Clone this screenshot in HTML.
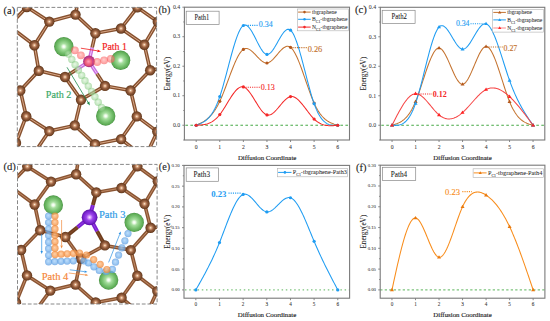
<!DOCTYPE html><html><head><meta charset="utf-8"><style>html,body{margin:0;padding:0;background:#fff;width:550px;height:321px;overflow:hidden}svg{display:block}</style></head><body>
<svg width="550" height="321" viewBox="0 0 550 321">
<defs>
<radialGradient id="gC" cx="0.5" cy="0.5" r="0.5" fx="0.5" fy="0.5">
<stop offset="0" stop-color="#fff4e4"/><stop offset="0.2" stop-color="#dba882"/><stop offset="0.5" stop-color="#9a6242"/><stop offset="0.85" stop-color="#744426"/><stop offset="1" stop-color="#5a3418"/></radialGradient>
<radialGradient id="gLi" cx="0.5" cy="0.5" r="0.5" fx="0.5" fy="0.5">
<stop offset="0" stop-color="#ffffff"/><stop offset="0.12" stop-color="#eefcea"/><stop offset="0.32" stop-color="#a6de9e"/><stop offset="0.62" stop-color="#7cc474"/><stop offset="0.9" stop-color="#5caa54"/><stop offset="1" stop-color="#428c3e"/></radialGradient>
<radialGradient id="gB" cx="0.5" cy="0.5" r="0.5" fx="0.5" fy="0.5">
<stop offset="0" stop-color="#ff9ad0"/><stop offset="0.4" stop-color="#e04c9c"/><stop offset="1" stop-color="#a8307a"/></radialGradient>
<radialGradient id="gP" cx="0.5" cy="0.5" r="0.5" fx="0.5" fy="0.5">
<stop offset="0" stop-color="#fbe8ff"/><stop offset="0.16" stop-color="#dca8ff"/><stop offset="0.42" stop-color="#9c44ea"/><stop offset="0.8" stop-color="#7622cc"/><stop offset="1" stop-color="#5a12a0"/></radialGradient>
<radialGradient id="gDB" cx="0.5" cy="0.5" r="0.5" fx="0.45" fy="0.4">
<stop offset="0" stop-color="#a8d2fa"/><stop offset="0.6" stop-color="#7cb6ee"/><stop offset="1" stop-color="#5a9ae0"/></radialGradient>
<radialGradient id="gDO" cx="0.5" cy="0.5" r="0.5" fx="0.45" fy="0.4">
<stop offset="0" stop-color="#ffc490"/><stop offset="0.6" stop-color="#f8a058"/><stop offset="1" stop-color="#ec8434"/></radialGradient>
<radialGradient id="gDG" cx="0.5" cy="0.5" r="0.5" fx="0.45" fy="0.4">
<stop offset="0" stop-color="#d8f4d4"/><stop offset="0.6" stop-color="#a8dca2"/><stop offset="1" stop-color="#84c880"/></radialGradient>
<radialGradient id="gDR" cx="0.5" cy="0.5" r="0.5" fx="0.45" fy="0.4">
<stop offset="0" stop-color="#ffb0b0"/><stop offset="0.6" stop-color="#ff7a7a"/><stop offset="1" stop-color="#f65a5a"/></radialGradient>
</defs>
<rect width="550" height="321" fill="#fff"/>
<clipPath id="ca"><rect x="17.3" y="7.4" width="139.30" height="139.20"/></clipPath>
<g clip-path="url(#ca)">

<line x1="26.8" y1="7.0" x2="49.3" y2="21.6" stroke="#86502e" stroke-width="3.6"/><line x1="26.8" y1="7.0" x2="49.3" y2="21.6" stroke="#d9a888" stroke-width="1.0"/>
<line x1="26.8" y1="7.0" x2="9.0" y2="26.0" stroke="#86502e" stroke-width="3.6"/><line x1="26.8" y1="7.0" x2="9.0" y2="26.0" stroke="#d9a888" stroke-width="1.0"/>
<line x1="26.8" y1="7.0" x2="26.0" y2="-12.0" stroke="#86502e" stroke-width="3.6"/><line x1="26.8" y1="7.0" x2="26.0" y2="-12.0" stroke="#d9a888" stroke-width="1.0"/>
<line x1="49.3" y1="21.6" x2="75.5" y2="14.6" stroke="#86502e" stroke-width="3.6"/><line x1="49.3" y1="21.6" x2="75.5" y2="14.6" stroke="#d9a888" stroke-width="1.0"/>
<line x1="49.3" y1="21.6" x2="34.4" y2="45.2" stroke="#86502e" stroke-width="3.6"/><line x1="49.3" y1="21.6" x2="34.4" y2="45.2" stroke="#d9a888" stroke-width="1.0"/>
<line x1="75.5" y1="14.6" x2="95.4" y2="33.3" stroke="#86502e" stroke-width="3.6"/><line x1="75.5" y1="14.6" x2="95.4" y2="33.3" stroke="#d9a888" stroke-width="1.0"/>
<line x1="75.5" y1="14.6" x2="80.0" y2="-10.0" stroke="#86502e" stroke-width="3.6"/><line x1="75.5" y1="14.6" x2="80.0" y2="-10.0" stroke="#d9a888" stroke-width="1.0"/>
<line x1="34.4" y1="45.2" x2="38.8" y2="70.7" stroke="#86502e" stroke-width="3.6"/><line x1="34.4" y1="45.2" x2="38.8" y2="70.7" stroke="#d9a888" stroke-width="1.0"/>
<line x1="34.4" y1="45.2" x2="9.0" y2="26.0" stroke="#86502e" stroke-width="3.6"/><line x1="34.4" y1="45.2" x2="9.0" y2="26.0" stroke="#d9a888" stroke-width="1.0"/>
<line x1="38.8" y1="70.7" x2="65.0" y2="77.0" stroke="#86502e" stroke-width="3.6"/><line x1="38.8" y1="70.7" x2="65.0" y2="77.0" stroke="#d9a888" stroke-width="1.0"/>
<line x1="38.8" y1="70.7" x2="20.3" y2="90.5" stroke="#86502e" stroke-width="3.6"/><line x1="38.8" y1="70.7" x2="20.3" y2="90.5" stroke="#d9a888" stroke-width="1.0"/>
<line x1="89.0" y1="61.4" x2="77.0" y2="69.2" stroke="#c86ee0" stroke-width="3.6"/><line x1="89.0" y1="61.4" x2="77.0" y2="69.2" stroke="#f2c8fa" stroke-width="1.0"/>
<line x1="77.0" y1="69.2" x2="65.0" y2="77.0" stroke="#86502e" stroke-width="3.6"/><line x1="77.0" y1="69.2" x2="65.0" y2="77.0" stroke="#d9a888" stroke-width="1.0"/>
<line x1="65.0" y1="77.0" x2="81.0" y2="99.7" stroke="#86502e" stroke-width="3.6"/><line x1="65.0" y1="77.0" x2="81.0" y2="99.7" stroke="#d9a888" stroke-width="1.0"/>
<line x1="89.0" y1="61.4" x2="92.2" y2="47.3" stroke="#c86ee0" stroke-width="3.6"/><line x1="89.0" y1="61.4" x2="92.2" y2="47.3" stroke="#f2c8fa" stroke-width="1.0"/>
<line x1="92.2" y1="47.3" x2="95.4" y2="33.3" stroke="#86502e" stroke-width="3.6"/><line x1="92.2" y1="47.3" x2="95.4" y2="33.3" stroke="#d9a888" stroke-width="1.0"/>
<line x1="89.0" y1="61.4" x2="97.0" y2="73.7" stroke="#c86ee0" stroke-width="3.6"/><line x1="89.0" y1="61.4" x2="97.0" y2="73.7" stroke="#f2c8fa" stroke-width="1.0"/>
<line x1="97.0" y1="73.7" x2="105.0" y2="85.9" stroke="#86502e" stroke-width="3.6"/><line x1="97.0" y1="73.7" x2="105.0" y2="85.9" stroke="#d9a888" stroke-width="1.0"/>
<line x1="95.4" y1="33.3" x2="121.0" y2="28.5" stroke="#86502e" stroke-width="3.6"/><line x1="95.4" y1="33.3" x2="121.0" y2="28.5" stroke="#d9a888" stroke-width="1.0"/>
<line x1="121.0" y1="28.5" x2="137.3" y2="7.3" stroke="#86502e" stroke-width="3.6"/><line x1="121.0" y1="28.5" x2="137.3" y2="7.3" stroke="#d9a888" stroke-width="1.0"/>
<line x1="121.0" y1="28.5" x2="144.3" y2="44.7" stroke="#86502e" stroke-width="3.6"/><line x1="121.0" y1="28.5" x2="144.3" y2="44.7" stroke="#d9a888" stroke-width="1.0"/>
<line x1="137.3" y1="7.3" x2="157.8" y2="21.8" stroke="#86502e" stroke-width="3.6"/><line x1="137.3" y1="7.3" x2="157.8" y2="21.8" stroke="#d9a888" stroke-width="1.0"/>
<line x1="157.8" y1="21.8" x2="144.3" y2="44.7" stroke="#86502e" stroke-width="3.6"/><line x1="157.8" y1="21.8" x2="144.3" y2="44.7" stroke="#d9a888" stroke-width="1.0"/>
<line x1="144.3" y1="44.7" x2="150.2" y2="70.2" stroke="#86502e" stroke-width="3.6"/><line x1="144.3" y1="44.7" x2="150.2" y2="70.2" stroke="#d9a888" stroke-width="1.0"/>
<line x1="150.2" y1="70.2" x2="130.6" y2="90.5" stroke="#86502e" stroke-width="3.6"/><line x1="150.2" y1="70.2" x2="130.6" y2="90.5" stroke="#d9a888" stroke-width="1.0"/>
<line x1="150.2" y1="70.2" x2="176.0" y2="66.0" stroke="#86502e" stroke-width="3.6"/><line x1="150.2" y1="70.2" x2="176.0" y2="66.0" stroke="#d9a888" stroke-width="1.0"/>
<line x1="105.0" y1="85.9" x2="81.0" y2="99.7" stroke="#86502e" stroke-width="3.6"/><line x1="105.0" y1="85.9" x2="81.0" y2="99.7" stroke="#d9a888" stroke-width="1.0"/>
<line x1="105.0" y1="85.9" x2="130.6" y2="90.5" stroke="#86502e" stroke-width="3.6"/><line x1="105.0" y1="85.9" x2="130.6" y2="90.5" stroke="#d9a888" stroke-width="1.0"/>
<line x1="81.0" y1="99.7" x2="74.8" y2="125.4" stroke="#86502e" stroke-width="3.6"/><line x1="81.0" y1="99.7" x2="74.8" y2="125.4" stroke="#d9a888" stroke-width="1.0"/>
<line x1="20.3" y1="90.5" x2="26.2" y2="116.2" stroke="#86502e" stroke-width="3.6"/><line x1="20.3" y1="90.5" x2="26.2" y2="116.2" stroke="#d9a888" stroke-width="1.0"/>
<line x1="20.3" y1="90.5" x2="-3.0" y2="80.0" stroke="#86502e" stroke-width="3.6"/><line x1="20.3" y1="90.5" x2="-3.0" y2="80.0" stroke="#d9a888" stroke-width="1.0"/>
<line x1="26.2" y1="116.2" x2="49.3" y2="131.1" stroke="#86502e" stroke-width="3.6"/><line x1="26.2" y1="116.2" x2="49.3" y2="131.1" stroke="#d9a888" stroke-width="1.0"/>
<line x1="26.2" y1="116.2" x2="16.0" y2="143.0" stroke="#86502e" stroke-width="3.6"/><line x1="26.2" y1="116.2" x2="16.0" y2="143.0" stroke="#d9a888" stroke-width="1.0"/>
<line x1="49.3" y1="131.1" x2="74.8" y2="125.4" stroke="#86502e" stroke-width="3.6"/><line x1="49.3" y1="131.1" x2="74.8" y2="125.4" stroke="#d9a888" stroke-width="1.0"/>
<line x1="49.3" y1="131.1" x2="34.6" y2="152.5" stroke="#86502e" stroke-width="3.6"/><line x1="49.3" y1="131.1" x2="34.6" y2="152.5" stroke="#d9a888" stroke-width="1.0"/>
<line x1="74.8" y1="125.4" x2="95.0" y2="144.2" stroke="#86502e" stroke-width="3.6"/><line x1="74.8" y1="125.4" x2="95.0" y2="144.2" stroke="#d9a888" stroke-width="1.0"/>
<line x1="130.6" y1="90.5" x2="136.8" y2="116.4" stroke="#86502e" stroke-width="3.6"/><line x1="130.6" y1="90.5" x2="136.8" y2="116.4" stroke="#d9a888" stroke-width="1.0"/>
<line x1="136.8" y1="116.4" x2="121.1" y2="139.1" stroke="#86502e" stroke-width="3.6"/><line x1="136.8" y1="116.4" x2="121.1" y2="139.1" stroke="#d9a888" stroke-width="1.0"/>
<line x1="136.8" y1="116.4" x2="157.3" y2="131.6" stroke="#86502e" stroke-width="3.6"/><line x1="136.8" y1="116.4" x2="157.3" y2="131.6" stroke="#d9a888" stroke-width="1.0"/>
<line x1="121.1" y1="139.1" x2="95.0" y2="144.2" stroke="#86502e" stroke-width="3.6"/><line x1="121.1" y1="139.1" x2="95.0" y2="144.2" stroke="#d9a888" stroke-width="1.0"/>
<line x1="121.1" y1="139.1" x2="145.0" y2="158.0" stroke="#86502e" stroke-width="3.6"/><line x1="121.1" y1="139.1" x2="145.0" y2="158.0" stroke="#d9a888" stroke-width="1.0"/>
<line x1="157.3" y1="131.6" x2="145.0" y2="158.0" stroke="#86502e" stroke-width="3.6"/><line x1="157.3" y1="131.6" x2="145.0" y2="158.0" stroke="#d9a888" stroke-width="1.0"/>
<line x1="95.0" y1="144.2" x2="95.0" y2="168.0" stroke="#86502e" stroke-width="3.6"/><line x1="95.0" y1="144.2" x2="95.0" y2="168.0" stroke="#d9a888" stroke-width="1.0"/>
<line x1="137.3" y1="7.3" x2="150.0" y2="-8.0" stroke="#86502e" stroke-width="3.6"/><line x1="137.3" y1="7.3" x2="150.0" y2="-8.0" stroke="#d9a888" stroke-width="1.0"/>
<line x1="157.8" y1="21.8" x2="178.0" y2="30.0" stroke="#86502e" stroke-width="3.6"/><line x1="157.8" y1="21.8" x2="178.0" y2="30.0" stroke="#d9a888" stroke-width="1.0"/>
<line x1="157.3" y1="131.6" x2="176.0" y2="140.0" stroke="#86502e" stroke-width="3.6"/><line x1="157.3" y1="131.6" x2="176.0" y2="140.0" stroke="#d9a888" stroke-width="1.0"/>
<circle cx="26.8" cy="7.0" r="5.2" fill="url(#gC)"/>
<circle cx="49.3" cy="21.6" r="5.2" fill="url(#gC)"/>
<circle cx="75.5" cy="14.6" r="5.2" fill="url(#gC)"/>
<circle cx="34.4" cy="45.2" r="5.2" fill="url(#gC)"/>
<circle cx="38.8" cy="70.7" r="5.2" fill="url(#gC)"/>
<circle cx="65.0" cy="77.0" r="5.2" fill="url(#gC)"/>
<circle cx="95.4" cy="33.3" r="5.2" fill="url(#gC)"/>
<circle cx="121.0" cy="28.5" r="5.2" fill="url(#gC)"/>
<circle cx="137.3" cy="7.3" r="5.2" fill="url(#gC)"/>
<circle cx="144.3" cy="44.7" r="5.2" fill="url(#gC)"/>
<circle cx="150.2" cy="70.2" r="5.2" fill="url(#gC)"/>
<circle cx="157.8" cy="21.8" r="5.2" fill="url(#gC)"/>
<circle cx="105.0" cy="85.9" r="5.2" fill="url(#gC)"/>
<circle cx="81.0" cy="99.7" r="5.2" fill="url(#gC)"/>
<circle cx="20.3" cy="90.5" r="5.2" fill="url(#gC)"/>
<circle cx="26.2" cy="116.2" r="5.2" fill="url(#gC)"/>
<circle cx="49.3" cy="131.1" r="5.2" fill="url(#gC)"/>
<circle cx="74.8" cy="125.4" r="5.2" fill="url(#gC)"/>
<circle cx="130.6" cy="90.5" r="5.2" fill="url(#gC)"/>
<circle cx="136.8" cy="116.4" r="5.2" fill="url(#gC)"/>
<circle cx="121.1" cy="139.1" r="5.2" fill="url(#gC)"/>
<circle cx="95.0" cy="144.2" r="5.2" fill="url(#gC)"/>
<circle cx="157.3" cy="131.6" r="5.2" fill="url(#gC)"/>
<circle cx="9.0" cy="26.0" r="5.2" fill="url(#gC)"/>
<circle cx="80.0" cy="-10.0" r="5.2" fill="url(#gC)"/>
<circle cx="150.0" cy="-8.0" r="5.2" fill="url(#gC)"/>
<circle cx="176.0" cy="66.0" r="5.2" fill="url(#gC)"/>
<circle cx="-3.0" cy="80.0" r="5.2" fill="url(#gC)"/>
<circle cx="16.0" cy="143.0" r="5.2" fill="url(#gC)"/>
<circle cx="34.6" cy="152.5" r="5.2" fill="url(#gC)"/>
<circle cx="145.0" cy="158.0" r="5.2" fill="url(#gC)"/>
<circle cx="95.0" cy="168.0" r="5.2" fill="url(#gC)"/>
<circle cx="26.0" cy="-12.0" r="5.2" fill="url(#gC)"/>
<circle cx="178.0" cy="30.0" r="5.2" fill="url(#gC)"/>
<circle cx="176.0" cy="140.0" r="5.2" fill="url(#gC)"/>
<circle cx="89.0" cy="61.4" r="5.9" fill="url(#gB)"/>
<circle cx="63.8" cy="46.6" r="9.7" fill="url(#gLi)"/>
<circle cx="120.6" cy="60.3" r="9.7" fill="url(#gLi)"/>
<circle cx="105.7" cy="116.0" r="9.7" fill="url(#gLi)"/>
<circle cx="68.5" cy="54.0" r="3.7" fill="url(#gDG)" fill-opacity="0.6"/>
<circle cx="71.8" cy="59.4" r="3.7" fill="url(#gDG)" fill-opacity="0.6"/>
<circle cx="75.1" cy="64.7" r="3.7" fill="url(#gDG)" fill-opacity="0.6"/>
<circle cx="78.4" cy="70.0" r="3.7" fill="url(#gDG)" fill-opacity="0.6"/>
<circle cx="81.7" cy="75.4" r="3.7" fill="url(#gDG)" fill-opacity="0.6"/>
<circle cx="85.0" cy="80.8" r="3.7" fill="url(#gDG)" fill-opacity="0.6"/>
<circle cx="88.3" cy="86.1" r="3.7" fill="url(#gDG)" fill-opacity="0.6"/>
<circle cx="91.6" cy="91.4" r="3.7" fill="url(#gDG)" fill-opacity="0.6"/>
<circle cx="94.9" cy="96.8" r="3.7" fill="url(#gDG)" fill-opacity="0.6"/>
<circle cx="98.2" cy="102.2" r="3.7" fill="url(#gDG)" fill-opacity="0.6"/>
<circle cx="101.5" cy="107.5" r="3.7" fill="url(#gDG)" fill-opacity="0.6"/>
<circle cx="74.9" cy="50.3" r="3.9" fill="url(#gDR)" fill-opacity="0.62"/>
<circle cx="80.9" cy="55.3" r="3.9" fill="url(#gDR)" fill-opacity="0.62"/>
<circle cx="88.4" cy="62.2" r="3.9" fill="url(#gDR)" fill-opacity="0.62"/>
<circle cx="97.2" cy="62.0" r="3.9" fill="url(#gDR)" fill-opacity="0.62"/>
<circle cx="104.1" cy="60.3" r="3.9" fill="url(#gDR)" fill-opacity="0.62"/>
<circle cx="110.8" cy="58.8" r="3.9" fill="url(#gDR)" fill-opacity="0.62"/>
<line x1="80.9" y1="48.2" x2="97.4" y2="50.8" stroke="#f01c1c" stroke-width="0.8"/><path d="M101.0,51.4 L97.2,52.3 L97.7,49.4 Z" fill="#f01c1c"/>
<line x1="67.0" y1="67.3" x2="88.0" y2="102.3" stroke="#1f8a4c" stroke-width="0.8"/><path d="M89.9,105.4 L86.8,103.1 L89.3,101.5 Z" fill="#1f8a4c"/>
<text x="101.90" y="49.70" font-family="Liberation Serif" font-size="11.4" fill="#f21c1c" textLength="25.1" lengthAdjust="spacingAndGlyphs" stroke="#f21c1c" stroke-width="0.2">Path 1</text>
<text x="45.80" y="98.10" font-family="Liberation Serif" font-size="11.4" fill="#3aa866" textLength="25.6" lengthAdjust="spacingAndGlyphs" stroke="#3aa866" stroke-width="0.2">Path 2</text>
</g>
<rect x="17.3" y="7.4" width="139.30" height="139.20" fill="none" stroke="#7a7a7a" stroke-width="0.9" stroke-dasharray="3.8,1.9"/>
<text x="3.60" y="13.60" font-family="Liberation Serif" font-size="10.8" fill="#1e1e1e" textLength="11.6" lengthAdjust="spacingAndGlyphs" stroke="#1e1e1e" stroke-width="0.12">(a)</text>
<clipPath id="cd"><rect x="17.5" y="164.4" width="139.60" height="139.60"/></clipPath>
<g clip-path="url(#cd)">

<line x1="27.3" y1="166.4" x2="51.0" y2="181.6" stroke="#8a5432" stroke-width="3.6"/><line x1="27.3" y1="166.4" x2="51.0" y2="181.6" stroke="#c08a66" stroke-width="1.0"/>
<line x1="27.3" y1="166.4" x2="9.0" y2="185.5" stroke="#8a5432" stroke-width="3.6"/><line x1="27.3" y1="166.4" x2="9.0" y2="185.5" stroke="#c08a66" stroke-width="1.0"/>
<line x1="27.3" y1="166.4" x2="26.0" y2="147.5" stroke="#8a5432" stroke-width="3.6"/><line x1="27.3" y1="166.4" x2="26.0" y2="147.5" stroke="#c08a66" stroke-width="1.0"/>
<line x1="51.0" y1="181.6" x2="76.1" y2="174.2" stroke="#8a5432" stroke-width="3.6"/><line x1="51.0" y1="181.6" x2="76.1" y2="174.2" stroke="#c08a66" stroke-width="1.0"/>
<line x1="51.0" y1="181.6" x2="34.6" y2="204.5" stroke="#8a5432" stroke-width="3.6"/><line x1="51.0" y1="181.6" x2="34.6" y2="204.5" stroke="#c08a66" stroke-width="1.0"/>
<line x1="76.1" y1="174.2" x2="96.3" y2="192.4" stroke="#8a5432" stroke-width="3.6"/><line x1="76.1" y1="174.2" x2="96.3" y2="192.4" stroke="#c08a66" stroke-width="1.0"/>
<line x1="76.1" y1="174.2" x2="80.0" y2="149.5" stroke="#8a5432" stroke-width="3.6"/><line x1="76.1" y1="174.2" x2="80.0" y2="149.5" stroke="#c08a66" stroke-width="1.0"/>
<line x1="34.6" y1="204.5" x2="40.2" y2="230.3" stroke="#8a5432" stroke-width="3.6"/><line x1="34.6" y1="204.5" x2="40.2" y2="230.3" stroke="#c08a66" stroke-width="1.0"/>
<line x1="34.6" y1="204.5" x2="9.0" y2="185.5" stroke="#8a5432" stroke-width="3.6"/><line x1="34.6" y1="204.5" x2="9.0" y2="185.5" stroke="#c08a66" stroke-width="1.0"/>
<line x1="40.2" y1="230.3" x2="65.4" y2="237.0" stroke="#8a5432" stroke-width="3.6"/><line x1="40.2" y1="230.3" x2="65.4" y2="237.0" stroke="#c08a66" stroke-width="1.0"/>
<line x1="40.2" y1="230.3" x2="21.1" y2="250.0" stroke="#8a5432" stroke-width="3.6"/><line x1="40.2" y1="230.3" x2="21.1" y2="250.0" stroke="#c08a66" stroke-width="1.0"/>
<line x1="89.6" y1="217.3" x2="77.5" y2="227.2" stroke="#7a1ed2" stroke-width="4.0"/><line x1="89.6" y1="217.3" x2="77.5" y2="227.2" stroke="#9a4ae6" stroke-width="0.8"/>
<line x1="77.5" y1="227.2" x2="65.4" y2="237.0" stroke="#6e3c1c" stroke-width="4.0"/><line x1="77.5" y1="227.2" x2="65.4" y2="237.0" stroke="#8a5232" stroke-width="0.8"/>
<line x1="65.4" y1="237.0" x2="80.8" y2="258.5" stroke="#8a5432" stroke-width="3.6"/><line x1="65.4" y1="237.0" x2="80.8" y2="258.5" stroke="#c08a66" stroke-width="1.0"/>
<line x1="89.6" y1="217.3" x2="92.9" y2="204.9" stroke="#7a1ed2" stroke-width="4.0"/><line x1="89.6" y1="217.3" x2="92.9" y2="204.9" stroke="#9a4ae6" stroke-width="0.8"/>
<line x1="92.9" y1="204.9" x2="96.3" y2="192.4" stroke="#6e3c1c" stroke-width="4.0"/><line x1="92.9" y1="204.9" x2="96.3" y2="192.4" stroke="#8a5232" stroke-width="0.8"/>
<line x1="89.6" y1="217.3" x2="97.2" y2="231.4" stroke="#7a1ed2" stroke-width="4.0"/><line x1="89.6" y1="217.3" x2="97.2" y2="231.4" stroke="#9a4ae6" stroke-width="0.8"/>
<line x1="97.2" y1="231.4" x2="104.9" y2="245.4" stroke="#6e3c1c" stroke-width="4.0"/><line x1="97.2" y1="231.4" x2="104.9" y2="245.4" stroke="#8a5232" stroke-width="0.8"/>
<line x1="96.3" y1="192.4" x2="121.5" y2="188.0" stroke="#8a5432" stroke-width="3.6"/><line x1="96.3" y1="192.4" x2="121.5" y2="188.0" stroke="#c08a66" stroke-width="1.0"/>
<line x1="121.5" y1="188.0" x2="137.3" y2="166.3" stroke="#8a5432" stroke-width="3.6"/><line x1="121.5" y1="188.0" x2="137.3" y2="166.3" stroke="#c08a66" stroke-width="1.0"/>
<line x1="121.5" y1="188.0" x2="144.5" y2="203.8" stroke="#8a5432" stroke-width="3.6"/><line x1="121.5" y1="188.0" x2="144.5" y2="203.8" stroke="#c08a66" stroke-width="1.0"/>
<line x1="137.3" y1="166.3" x2="157.8" y2="181.3" stroke="#8a5432" stroke-width="3.6"/><line x1="137.3" y1="166.3" x2="157.8" y2="181.3" stroke="#c08a66" stroke-width="1.0"/>
<line x1="157.8" y1="181.3" x2="144.5" y2="203.8" stroke="#8a5432" stroke-width="3.6"/><line x1="157.8" y1="181.3" x2="144.5" y2="203.8" stroke="#c08a66" stroke-width="1.0"/>
<line x1="144.5" y1="203.8" x2="150.6" y2="227.8" stroke="#8a5432" stroke-width="3.6"/><line x1="144.5" y1="203.8" x2="150.6" y2="227.8" stroke="#c08a66" stroke-width="1.0"/>
<line x1="150.6" y1="227.8" x2="130.8" y2="250.1" stroke="#8a5432" stroke-width="3.6"/><line x1="150.6" y1="227.8" x2="130.8" y2="250.1" stroke="#c08a66" stroke-width="1.0"/>
<line x1="150.6" y1="227.8" x2="176.0" y2="225.5" stroke="#8a5432" stroke-width="3.6"/><line x1="150.6" y1="227.8" x2="176.0" y2="225.5" stroke="#c08a66" stroke-width="1.0"/>
<line x1="104.9" y1="245.4" x2="80.8" y2="258.5" stroke="#8a5432" stroke-width="3.6"/><line x1="104.9" y1="245.4" x2="80.8" y2="258.5" stroke="#c08a66" stroke-width="1.0"/>
<line x1="104.9" y1="245.4" x2="130.8" y2="250.1" stroke="#8a5432" stroke-width="3.6"/><line x1="104.9" y1="245.4" x2="130.8" y2="250.1" stroke="#c08a66" stroke-width="1.0"/>
<line x1="80.8" y1="258.5" x2="75.5" y2="284.6" stroke="#8a5432" stroke-width="3.6"/><line x1="80.8" y1="258.5" x2="75.5" y2="284.6" stroke="#c08a66" stroke-width="1.0"/>
<line x1="21.1" y1="250.0" x2="27.0" y2="275.4" stroke="#8a5432" stroke-width="3.6"/><line x1="21.1" y1="250.0" x2="27.0" y2="275.4" stroke="#c08a66" stroke-width="1.0"/>
<line x1="21.1" y1="250.0" x2="-3.0" y2="239.5" stroke="#8a5432" stroke-width="3.6"/><line x1="21.1" y1="250.0" x2="-3.0" y2="239.5" stroke="#c08a66" stroke-width="1.0"/>
<line x1="27.0" y1="275.4" x2="50.3" y2="290.6" stroke="#8a5432" stroke-width="3.6"/><line x1="27.0" y1="275.4" x2="50.3" y2="290.6" stroke="#c08a66" stroke-width="1.0"/>
<line x1="27.0" y1="275.4" x2="16.0" y2="302.5" stroke="#8a5432" stroke-width="3.6"/><line x1="27.0" y1="275.4" x2="16.0" y2="302.5" stroke="#c08a66" stroke-width="1.0"/>
<line x1="50.3" y1="290.6" x2="75.5" y2="284.6" stroke="#8a5432" stroke-width="3.6"/><line x1="50.3" y1="290.6" x2="75.5" y2="284.6" stroke="#c08a66" stroke-width="1.0"/>
<line x1="50.3" y1="290.6" x2="34.6" y2="312.0" stroke="#8a5432" stroke-width="3.6"/><line x1="50.3" y1="290.6" x2="34.6" y2="312.0" stroke="#c08a66" stroke-width="1.0"/>
<line x1="75.5" y1="284.6" x2="95.7" y2="302.5" stroke="#8a5432" stroke-width="3.6"/><line x1="75.5" y1="284.6" x2="95.7" y2="302.5" stroke="#c08a66" stroke-width="1.0"/>
<line x1="130.8" y1="250.1" x2="137.3" y2="275.7" stroke="#8a5432" stroke-width="3.6"/><line x1="130.8" y1="250.1" x2="137.3" y2="275.7" stroke="#c08a66" stroke-width="1.0"/>
<line x1="137.3" y1="275.7" x2="121.6" y2="297.8" stroke="#8a5432" stroke-width="3.6"/><line x1="137.3" y1="275.7" x2="121.6" y2="297.8" stroke="#c08a66" stroke-width="1.0"/>
<line x1="137.3" y1="275.7" x2="157.3" y2="291.1" stroke="#8a5432" stroke-width="3.6"/><line x1="137.3" y1="275.7" x2="157.3" y2="291.1" stroke="#c08a66" stroke-width="1.0"/>
<line x1="121.6" y1="297.8" x2="95.7" y2="302.5" stroke="#8a5432" stroke-width="3.6"/><line x1="121.6" y1="297.8" x2="95.7" y2="302.5" stroke="#c08a66" stroke-width="1.0"/>
<line x1="121.6" y1="297.8" x2="145.0" y2="317.5" stroke="#8a5432" stroke-width="3.6"/><line x1="121.6" y1="297.8" x2="145.0" y2="317.5" stroke="#c08a66" stroke-width="1.0"/>
<line x1="157.3" y1="291.1" x2="145.0" y2="317.5" stroke="#8a5432" stroke-width="3.6"/><line x1="157.3" y1="291.1" x2="145.0" y2="317.5" stroke="#c08a66" stroke-width="1.0"/>
<line x1="95.7" y1="302.5" x2="95.0" y2="327.5" stroke="#8a5432" stroke-width="3.6"/><line x1="95.7" y1="302.5" x2="95.0" y2="327.5" stroke="#c08a66" stroke-width="1.0"/>
<line x1="137.3" y1="166.3" x2="150.0" y2="151.5" stroke="#8a5432" stroke-width="3.6"/><line x1="137.3" y1="166.3" x2="150.0" y2="151.5" stroke="#c08a66" stroke-width="1.0"/>
<line x1="157.8" y1="181.3" x2="178.0" y2="189.5" stroke="#8a5432" stroke-width="3.6"/><line x1="157.8" y1="181.3" x2="178.0" y2="189.5" stroke="#c08a66" stroke-width="1.0"/>
<line x1="157.3" y1="291.1" x2="176.0" y2="299.5" stroke="#8a5432" stroke-width="3.6"/><line x1="157.3" y1="291.1" x2="176.0" y2="299.5" stroke="#c08a66" stroke-width="1.0"/>
<circle cx="27.3" cy="166.4" r="5.2" fill="url(#gC)"/>
<circle cx="51.0" cy="181.6" r="5.2" fill="url(#gC)"/>
<circle cx="76.1" cy="174.2" r="5.2" fill="url(#gC)"/>
<circle cx="34.6" cy="204.5" r="5.2" fill="url(#gC)"/>
<circle cx="40.2" cy="230.3" r="5.2" fill="url(#gC)"/>
<circle cx="65.4" cy="237.0" r="5.2" fill="url(#gC)"/>
<circle cx="96.3" cy="192.4" r="5.2" fill="url(#gC)"/>
<circle cx="121.5" cy="188.0" r="5.2" fill="url(#gC)"/>
<circle cx="137.3" cy="166.3" r="5.2" fill="url(#gC)"/>
<circle cx="144.5" cy="203.8" r="5.2" fill="url(#gC)"/>
<circle cx="150.6" cy="227.8" r="5.2" fill="url(#gC)"/>
<circle cx="157.8" cy="181.3" r="5.2" fill="url(#gC)"/>
<circle cx="104.9" cy="245.4" r="5.2" fill="url(#gC)"/>
<circle cx="80.8" cy="258.5" r="5.2" fill="url(#gC)"/>
<circle cx="21.1" cy="250.0" r="5.2" fill="url(#gC)"/>
<circle cx="27.0" cy="275.4" r="5.2" fill="url(#gC)"/>
<circle cx="50.3" cy="290.6" r="5.2" fill="url(#gC)"/>
<circle cx="75.5" cy="284.6" r="5.2" fill="url(#gC)"/>
<circle cx="130.8" cy="250.1" r="5.2" fill="url(#gC)"/>
<circle cx="137.3" cy="275.7" r="5.2" fill="url(#gC)"/>
<circle cx="121.6" cy="297.8" r="5.2" fill="url(#gC)"/>
<circle cx="95.7" cy="302.5" r="5.2" fill="url(#gC)"/>
<circle cx="157.3" cy="291.1" r="5.2" fill="url(#gC)"/>
<circle cx="9.0" cy="185.5" r="5.2" fill="url(#gC)"/>
<circle cx="80.0" cy="149.5" r="5.2" fill="url(#gC)"/>
<circle cx="150.0" cy="151.5" r="5.2" fill="url(#gC)"/>
<circle cx="176.0" cy="225.5" r="5.2" fill="url(#gC)"/>
<circle cx="-3.0" cy="239.5" r="5.2" fill="url(#gC)"/>
<circle cx="16.0" cy="302.5" r="5.2" fill="url(#gC)"/>
<circle cx="34.6" cy="312.0" r="5.2" fill="url(#gC)"/>
<circle cx="145.0" cy="317.5" r="5.2" fill="url(#gC)"/>
<circle cx="95.0" cy="327.5" r="5.2" fill="url(#gC)"/>
<circle cx="26.0" cy="147.5" r="5.2" fill="url(#gC)"/>
<circle cx="178.0" cy="189.5" r="5.2" fill="url(#gC)"/>
<circle cx="176.0" cy="299.5" r="5.2" fill="url(#gC)"/>
<circle cx="89.6" cy="217.3" r="7.9" fill="url(#gP)"/>
<circle cx="53.3" cy="205.0" r="9.7" fill="url(#gLi)"/>
<circle cx="134.2" cy="222.4" r="9.7" fill="url(#gLi)"/>
<circle cx="108.6" cy="280.0" r="9.7" fill="url(#gLi)"/>
<circle cx="48.6" cy="216.0" r="3.6" fill="url(#gDB)" fill-opacity="0.75"/>
<circle cx="48.6" cy="222.5" r="3.6" fill="url(#gDB)" fill-opacity="0.75"/>
<circle cx="48.6" cy="229.1" r="3.6" fill="url(#gDB)" fill-opacity="0.75"/>
<circle cx="48.6" cy="235.6" r="3.6" fill="url(#gDB)" fill-opacity="0.75"/>
<circle cx="48.6" cy="242.2" r="3.6" fill="url(#gDB)" fill-opacity="0.75"/>
<circle cx="48.6" cy="248.7" r="3.6" fill="url(#gDB)" fill-opacity="0.75"/>
<circle cx="48.6" cy="255.3" r="3.6" fill="url(#gDB)" fill-opacity="0.75"/>
<circle cx="48.6" cy="261.8" r="3.6" fill="url(#gDB)" fill-opacity="0.75"/>
<circle cx="54.8" cy="261.6" r="3.6" fill="url(#gDB)" fill-opacity="0.75"/>
<circle cx="61.0" cy="261.3" r="3.6" fill="url(#gDB)" fill-opacity="0.75"/>
<circle cx="67.1" cy="261.1" r="3.6" fill="url(#gDB)" fill-opacity="0.75"/>
<circle cx="73.3" cy="260.8" r="3.6" fill="url(#gDB)" fill-opacity="0.75"/>
<circle cx="84.0" cy="261.0" r="3.6" fill="url(#gDB)" fill-opacity="0.75"/>
<circle cx="88.5" cy="263.0" r="3.6" fill="url(#gDB)" fill-opacity="0.75"/>
<circle cx="93.9" cy="266.8" r="3.6" fill="url(#gDB)" fill-opacity="0.75"/>
<circle cx="99.3" cy="270.5" r="3.6" fill="url(#gDB)" fill-opacity="0.75"/>
<circle cx="106.0" cy="271.5" r="3.6" fill="url(#gDB)" fill-opacity="0.75"/>
<circle cx="112.4" cy="269.4" r="3.6" fill="url(#gDB)" fill-opacity="0.75"/>
<circle cx="115.5" cy="262.2" r="3.6" fill="url(#gDB)" fill-opacity="0.75"/>
<circle cx="118.6" cy="255.1" r="3.6" fill="url(#gDB)" fill-opacity="0.75"/>
<circle cx="121.8" cy="247.9" r="3.6" fill="url(#gDB)" fill-opacity="0.75"/>
<circle cx="124.9" cy="240.8" r="3.6" fill="url(#gDB)" fill-opacity="0.75"/>
<circle cx="128.0" cy="233.6" r="3.6" fill="url(#gDB)" fill-opacity="0.75"/>
<circle cx="55.0" cy="216.0" r="3.6" fill="url(#gDO)" fill-opacity="0.78"/>
<circle cx="55.0" cy="222.4" r="3.6" fill="url(#gDO)" fill-opacity="0.78"/>
<circle cx="55.0" cy="228.9" r="3.6" fill="url(#gDO)" fill-opacity="0.78"/>
<circle cx="55.0" cy="235.3" r="3.6" fill="url(#gDO)" fill-opacity="0.78"/>
<circle cx="55.0" cy="241.7" r="3.6" fill="url(#gDO)" fill-opacity="0.78"/>
<circle cx="55.0" cy="248.2" r="3.6" fill="url(#gDO)" fill-opacity="0.78"/>
<circle cx="55.0" cy="254.6" r="3.6" fill="url(#gDO)" fill-opacity="0.78"/>
<circle cx="61.1" cy="254.2" r="3.6" fill="url(#gDO)" fill-opacity="0.78"/>
<circle cx="67.2" cy="253.8" r="3.6" fill="url(#gDO)" fill-opacity="0.78"/>
<circle cx="73.4" cy="253.4" r="3.6" fill="url(#gDO)" fill-opacity="0.78"/>
<circle cx="79.5" cy="253.0" r="3.6" fill="url(#gDO)" fill-opacity="0.78"/>
<circle cx="86.5" cy="255.0" r="3.6" fill="url(#gDO)" fill-opacity="0.78"/>
<circle cx="93.7" cy="259.6" r="3.6" fill="url(#gDO)" fill-opacity="0.78"/>
<circle cx="100.2" cy="264.3" r="3.6" fill="url(#gDO)" fill-opacity="0.78"/>
<circle cx="106.8" cy="269.5" r="3.6" fill="url(#gDO)" fill-opacity="0.78"/>
<line x1="41.7" y1="234.0" x2="41.7" y2="251.0" stroke="#2b90e2" stroke-width="0.7"/><path d="M41.7,254.0 L40.5,251.0 L42.9,251.0 Z" fill="#2b90e2"/>
<line x1="61.6" y1="220.0" x2="61.6" y2="245.5" stroke="#f08a3c" stroke-width="0.7"/><path d="M61.6,248.5 L60.4,245.5 L62.8,245.5 Z" fill="#f08a3c"/>
<line x1="108.6" y1="262.4" x2="119.7" y2="234.3" stroke="#2b90e2" stroke-width="0.7"/><path d="M120.8,231.5 L120.8,234.7 L118.6,233.8 Z" fill="#2b90e2"/>
<line x1="69.8" y1="269.8" x2="84.5" y2="271.6" stroke="#2b90e2" stroke-width="0.7"/><path d="M87.5,272.0 L84.4,272.8 L84.7,270.4 Z" fill="#2b90e2"/>
<line x1="68.7" y1="273.0" x2="85.3" y2="274.9" stroke="#f08a3c" stroke-width="0.7"/><path d="M88.3,275.2 L85.2,276.1 L85.5,273.7 Z" fill="#f08a3c"/>
<text x="98.90" y="217.80" font-family="Liberation Serif" font-size="11.4" fill="#2f9be6" textLength="26.6" lengthAdjust="spacingAndGlyphs" stroke="#2f9be6" stroke-width="0.2">Path 3</text>
<text x="41.70" y="279.60" font-family="Liberation Serif" font-size="11.4" fill="#f5873a" textLength="26.7" lengthAdjust="spacingAndGlyphs" stroke="#f5873a" stroke-width="0.2">Path 4</text>
</g>
<rect x="17.5" y="164.4" width="139.60" height="139.60" fill="none" stroke="#7a7a7a" stroke-width="0.9" stroke-dasharray="3.8,1.9"/>
<text x="3.40" y="170.30" font-family="Liberation Serif" font-size="10.8" fill="#1e1e1e" textLength="12.4" lengthAdjust="spacingAndGlyphs" stroke="#1e1e1e" stroke-width="0.12">(d)</text>
<line x1="184.4" y1="125.24" x2="349.5" y2="125.24" stroke="#46a846" stroke-width="1" stroke-dasharray="2.6,2.4" stroke-dashoffset="-1"/>
<path d="M196.19,125.24 L197.08,124.84 L197.97,124.43 L198.86,124.01 L199.75,123.58 L200.64,123.13 L201.53,122.66 L202.42,122.17 L203.31,121.65 L204.20,121.09 L205.09,120.49 L205.98,119.85 L206.87,119.17 L207.76,118.43 L208.65,117.64 L209.54,116.79 L210.43,115.87 L211.32,114.89 L212.21,113.83 L213.10,112.70 L213.99,111.49 L214.88,110.19 L215.77,108.80 L216.66,107.32 L217.55,105.74 L218.44,104.06 L219.33,102.28 L220.22,100.38 L221.11,98.37 L222.00,96.28 L222.89,94.10 L223.78,91.85 L224.67,89.54 L225.56,87.19 L226.45,84.80 L227.34,82.39 L228.23,79.98 L229.12,77.57 L230.01,75.17 L230.90,72.80 L231.79,70.47 L232.68,68.19 L233.57,65.98 L234.46,63.85 L235.35,61.80 L236.24,59.85 L237.13,58.02 L238.02,56.32 L238.91,54.75 L239.80,53.33 L240.69,52.07 L241.58,50.99 L242.47,50.10 L243.36,49.40 L244.25,48.91 L245.14,48.62 L246.03,48.51 L246.92,48.57 L247.81,48.78 L248.70,49.13 L249.59,49.60 L250.48,50.18 L251.37,50.86 L252.26,51.62 L253.15,52.45 L254.04,53.33 L254.93,54.24 L255.82,55.18 L256.71,56.13 L257.60,57.07 L258.49,57.99 L259.38,58.88 L260.27,59.72 L261.16,60.49 L262.05,61.19 L262.94,61.79 L263.83,62.29 L264.72,62.67 L265.61,62.90 L266.50,62.99 L267.40,62.92 L268.29,62.68 L269.18,62.29 L270.07,61.76 L270.96,61.12 L271.85,60.37 L272.74,59.54 L273.63,58.63 L274.52,57.66 L275.41,56.65 L276.30,55.60 L277.19,54.55 L278.08,53.49 L278.97,52.46 L279.86,51.45 L280.75,50.49 L281.64,49.59 L282.53,48.77 L283.42,48.04 L284.31,47.42 L285.20,46.92 L286.09,46.56 L286.98,46.35 L287.87,46.31 L288.76,46.45 L289.65,46.78 L290.54,47.34 L291.43,48.11 L292.32,49.10 L293.21,50.28 L294.10,51.66 L294.99,53.21 L295.88,54.92 L296.77,56.78 L297.66,58.77 L298.55,60.88 L299.44,63.10 L300.33,65.41 L301.22,67.80 L302.11,70.26 L303.00,72.77 L303.89,75.32 L304.78,77.89 L305.67,80.48 L306.56,83.06 L307.45,85.64 L308.34,88.18 L309.23,90.68 L310.12,93.13 L311.01,95.51 L311.90,97.81 L312.79,100.01 L313.68,102.11 L314.57,104.08 L315.46,105.93 L316.35,107.65 L317.24,109.26 L318.13,110.76 L319.02,112.15 L319.91,113.44 L320.80,114.63 L321.69,115.73 L322.58,116.74 L323.47,117.67 L324.36,118.52 L325.25,119.29 L326.14,120.00 L327.03,120.65 L327.92,121.24 L328.81,121.77 L329.70,122.26 L330.59,122.70 L331.48,123.10 L332.37,123.47 L333.26,123.81 L334.15,124.13 L335.04,124.42 L335.93,124.71 L336.82,124.98 L337.71,125.24" fill="none" stroke="#c4722e" stroke-width="1.05"/>
<path d="M196.19,125.24 L197.08,124.92 L197.97,124.60 L198.86,124.26 L199.75,123.90 L200.64,123.51 L201.53,123.09 L202.42,122.64 L203.31,122.13 L204.20,121.58 L205.09,120.97 L205.98,120.29 L206.87,119.54 L207.76,118.71 L208.65,117.80 L209.54,116.80 L210.43,115.70 L211.32,114.49 L212.21,113.18 L213.10,111.74 L213.99,110.19 L214.88,108.50 L215.77,106.68 L216.66,104.72 L217.55,102.60 L218.44,100.33 L219.33,97.90 L220.22,95.30 L221.11,92.53 L222.00,89.63 L222.89,86.59 L223.78,83.45 L224.67,80.23 L225.56,76.93 L226.45,73.58 L227.34,70.21 L228.23,66.82 L229.12,63.43 L230.01,60.08 L230.90,56.76 L231.79,53.51 L232.68,50.34 L233.57,47.27 L234.46,44.32 L235.35,41.51 L236.24,38.85 L237.13,36.37 L238.02,34.08 L238.91,32.01 L239.80,30.17 L240.69,28.58 L241.58,27.26 L242.47,26.22 L243.36,25.50 L244.25,25.09 L245.14,24.99 L246.03,25.16 L246.92,25.60 L247.81,26.27 L248.70,27.15 L249.59,28.22 L250.48,29.45 L251.37,30.84 L252.26,32.34 L253.15,33.94 L254.04,35.62 L254.93,37.35 L255.82,39.11 L256.71,40.88 L257.60,42.63 L258.49,44.35 L259.38,46.00 L260.27,47.57 L261.16,49.04 L262.05,50.38 L262.94,51.56 L263.83,52.58 L264.72,53.39 L265.61,53.99 L266.50,54.34 L267.40,54.43 L268.29,54.25 L269.18,53.84 L270.07,53.20 L270.96,52.37 L271.85,51.36 L272.74,50.20 L273.63,48.91 L274.52,47.52 L275.41,46.04 L276.30,44.50 L277.19,42.93 L278.08,41.34 L278.97,39.75 L279.86,38.20 L280.75,36.70 L281.64,35.28 L282.53,33.95 L283.42,32.75 L284.31,31.69 L285.20,30.80 L286.09,30.10 L286.98,29.61 L287.87,29.35 L288.76,29.35 L289.65,29.63 L290.54,30.22 L291.43,31.12 L292.32,32.33 L293.21,33.83 L294.10,35.59 L294.99,37.61 L295.88,39.85 L296.77,42.29 L297.66,44.93 L298.55,47.74 L299.44,50.70 L300.33,53.78 L301.22,56.98 L302.11,60.27 L303.00,63.63 L303.89,67.04 L304.78,70.49 L305.67,73.94 L306.56,77.40 L307.45,80.82 L308.34,84.20 L309.23,87.51 L310.12,90.74 L311.01,93.87 L311.90,96.87 L312.79,99.73 L313.68,102.42 L314.57,104.93 L315.46,107.26 L316.35,109.40 L317.24,111.37 L318.13,113.17 L319.02,114.81 L319.91,116.30 L320.80,117.64 L321.69,118.85 L322.58,119.93 L323.47,120.88 L324.36,121.71 L325.25,122.44 L326.14,123.06 L327.03,123.60 L327.92,124.04 L328.81,124.40 L329.70,124.69 L330.59,124.92 L331.48,125.09 L332.37,125.20 L333.26,125.28 L334.15,125.31 L335.04,125.32 L335.93,125.31 L336.82,125.28 L337.71,125.24" fill="none" stroke="#1e9cf2" stroke-width="1.05"/>
<path d="M196.19,125.24 L197.08,125.21 L197.97,125.17 L198.86,125.13 L199.75,125.07 L200.64,125.01 L201.53,124.93 L202.42,124.82 L203.31,124.70 L204.20,124.55 L205.09,124.38 L205.98,124.17 L206.87,123.93 L207.76,123.65 L208.65,123.33 L209.54,122.97 L210.43,122.56 L211.32,122.10 L212.21,121.58 L213.10,121.01 L213.99,120.38 L214.88,119.69 L215.77,118.93 L216.66,118.10 L217.55,117.20 L218.44,116.23 L219.33,115.18 L220.22,114.04 L221.11,112.83 L222.00,111.55 L222.89,110.22 L223.78,108.83 L224.67,107.41 L225.56,105.96 L226.45,104.50 L227.34,103.02 L228.23,101.55 L229.12,100.10 L230.01,98.66 L230.90,97.26 L231.79,95.91 L232.68,94.61 L233.57,93.37 L234.46,92.21 L235.35,91.13 L236.24,90.14 L237.13,89.26 L238.02,88.50 L238.91,87.86 L239.80,87.35 L240.69,86.99 L241.58,86.78 L242.47,86.74 L243.36,86.88 L244.25,87.20 L245.14,87.69 L246.03,88.33 L246.92,89.12 L247.81,90.04 L248.70,91.08 L249.59,92.22 L250.48,93.45 L251.37,94.75 L252.26,96.11 L253.15,97.52 L254.04,98.96 L254.93,100.42 L255.82,101.88 L256.71,103.34 L257.60,104.77 L258.49,106.17 L259.38,107.51 L260.27,108.79 L261.16,109.99 L262.05,111.10 L262.94,112.10 L263.83,112.98 L264.72,113.73 L265.61,114.33 L266.50,114.76 L267.40,115.02 L268.29,115.11 L269.18,115.03 L270.07,114.80 L270.96,114.43 L271.85,113.93 L272.74,113.32 L273.63,112.61 L274.52,111.81 L275.41,110.93 L276.30,109.99 L277.19,109.00 L278.08,107.97 L278.97,106.92 L279.86,105.85 L280.75,104.78 L281.64,103.73 L282.53,102.70 L283.42,101.70 L284.31,100.76 L285.20,99.88 L286.09,99.07 L286.98,98.36 L287.87,97.74 L288.76,97.24 L289.65,96.86 L290.54,96.62 L291.43,96.53 L292.32,96.58 L293.21,96.76 L294.10,97.07 L294.99,97.50 L295.88,98.03 L296.77,98.67 L297.66,99.40 L298.55,100.21 L299.44,101.09 L300.33,102.04 L301.22,103.06 L302.11,104.12 L303.00,105.22 L303.89,106.35 L304.78,107.51 L305.67,108.69 L306.56,109.87 L307.45,111.05 L308.34,112.23 L309.23,113.38 L310.12,114.51 L311.01,115.61 L311.90,116.66 L312.79,117.66 L313.68,118.60 L314.57,119.47 L315.46,120.28 L316.35,121.01 L317.24,121.68 L318.13,122.29 L319.02,122.83 L319.91,123.32 L320.80,123.75 L321.69,124.13 L322.58,124.47 L323.47,124.75 L324.36,125.00 L325.25,125.20 L326.14,125.36 L327.03,125.49 L327.92,125.58 L328.81,125.65 L329.70,125.69 L330.59,125.70 L331.48,125.69 L332.37,125.66 L333.26,125.62 L334.15,125.56 L335.04,125.49 L335.93,125.41 L336.82,125.33 L337.71,125.24" fill="none" stroke="#f42828" stroke-width="1.05"/>
<circle cx="196.19" cy="125.24" r="1.60" fill="#b4581c"/>
<circle cx="219.78" cy="101.34" r="1.60" fill="#b4581c"/>
<circle cx="243.36" cy="49.40" r="1.60" fill="#b4581c"/>
<circle cx="266.95" cy="62.98" r="1.60" fill="#b4581c"/>
<circle cx="290.54" cy="47.34" r="1.60" fill="#b4581c"/>
<circle cx="314.12" cy="103.11" r="1.60" fill="#b4581c"/>
<circle cx="337.71" cy="125.24" r="1.60" fill="#b4581c"/>
<circle cx="196.19" cy="125.24" r="1.60" fill="#1e9cf2"/>
<circle cx="219.78" cy="96.62" r="1.60" fill="#1e9cf2"/>
<circle cx="243.36" cy="25.50" r="1.60" fill="#1e9cf2"/>
<circle cx="266.95" cy="54.42" r="1.60" fill="#1e9cf2"/>
<circle cx="290.54" cy="30.22" r="1.60" fill="#1e9cf2"/>
<circle cx="314.12" cy="103.70" r="1.60" fill="#1e9cf2"/>
<circle cx="337.71" cy="125.24" r="1.60" fill="#1e9cf2"/>
<circle cx="196.19" cy="125.24" r="1.60" fill="#f42828"/>
<circle cx="219.78" cy="114.62" r="1.60" fill="#f42828"/>
<circle cx="243.36" cy="86.88" r="1.60" fill="#f42828"/>
<circle cx="266.95" cy="114.92" r="1.60" fill="#f42828"/>
<circle cx="290.54" cy="96.62" r="1.60" fill="#f42828"/>
<circle cx="314.12" cy="119.05" r="1.60" fill="#f42828"/>
<circle cx="337.71" cy="125.24" r="1.60" fill="#f42828"/>
<line x1="245.5" y1="25.4" x2="258.0" y2="25.4" stroke="#1e9cf2" stroke-width="1.1" stroke-dasharray="1.1,1.1"/>
<text x="258.80" y="27.00" font-family="Liberation Serif" font-size="8.0" fill="#1e9cf2" textLength="13.9" lengthAdjust="spacingAndGlyphs" stroke="#1e9cf2" stroke-width="0.12">0.34</text>
<line x1="292.5" y1="47.6" x2="307.0" y2="47.6" stroke="#c4722e" stroke-width="1.1" stroke-dasharray="1.1,1.1"/>
<text x="307.70" y="52.00" font-family="Liberation Serif" font-size="8.2" fill="#c4722e" textLength="14.6" lengthAdjust="spacingAndGlyphs" stroke="#c4722e" stroke-width="0.12">0.26</text>
<line x1="245.5" y1="87.2" x2="260.0" y2="87.2" stroke="#f42828" stroke-width="1.1" stroke-dasharray="1.1,1.1"/>
<text x="260.70" y="89.80" font-family="Liberation Serif" font-size="8.0" fill="#f42828" textLength="14.1" lengthAdjust="spacingAndGlyphs" stroke="#f42828" stroke-width="0.12">0.13</text>
<rect x="184.4" y="7.2" width="165.10" height="132.80" fill="none" stroke="#7a7a7a" stroke-width="1.1"/>
<line x1="182.4" y1="125.24" x2="184.4" y2="125.24" stroke="#7a7a7a" stroke-width="0.9"/>
<text x="180.20" y="126.98" font-family="Liberation Serif" font-size="5.8" fill="#333" text-anchor="end" stroke="#333" stroke-width="0.04">0.0</text>
<line x1="182.4" y1="95.73" x2="184.4" y2="95.73" stroke="#7a7a7a" stroke-width="0.9"/>
<text x="180.20" y="97.47" font-family="Liberation Serif" font-size="5.8" fill="#333" text-anchor="end" stroke="#333" stroke-width="0.04">0.1</text>
<line x1="182.4" y1="66.22" x2="184.4" y2="66.22" stroke="#7a7a7a" stroke-width="0.9"/>
<text x="180.20" y="67.96" font-family="Liberation Serif" font-size="5.8" fill="#333" text-anchor="end" stroke="#333" stroke-width="0.04">0.2</text>
<line x1="182.4" y1="36.71" x2="184.4" y2="36.71" stroke="#7a7a7a" stroke-width="0.9"/>
<text x="180.20" y="38.45" font-family="Liberation Serif" font-size="5.8" fill="#333" text-anchor="end" stroke="#333" stroke-width="0.04">0.3</text>
<line x1="182.4" y1="7.20" x2="184.4" y2="7.20" stroke="#7a7a7a" stroke-width="0.9"/>
<text x="180.20" y="8.94" font-family="Liberation Serif" font-size="5.8" fill="#333" text-anchor="end" stroke="#333" stroke-width="0.04">0.4</text>
<line x1="183.20000000000002" y1="140.00" x2="184.4" y2="140.00" stroke="#7a7a7a" stroke-width="0.8"/>
<line x1="183.20000000000002" y1="110.49" x2="184.4" y2="110.49" stroke="#7a7a7a" stroke-width="0.8"/>
<line x1="183.20000000000002" y1="80.98" x2="184.4" y2="80.98" stroke="#7a7a7a" stroke-width="0.8"/>
<line x1="183.20000000000002" y1="51.47" x2="184.4" y2="51.47" stroke="#7a7a7a" stroke-width="0.8"/>
<line x1="183.20000000000002" y1="21.96" x2="184.4" y2="21.96" stroke="#7a7a7a" stroke-width="0.8"/>
<line x1="196.19" y1="140.0" x2="196.19" y2="142.0" stroke="#7a7a7a" stroke-width="0.9"/>
<text x="196.19" y="148.70" font-family="Liberation Serif" font-size="5.7" fill="#333" text-anchor="middle" stroke="#333" stroke-width="0.06">0</text>
<line x1="219.78" y1="140.0" x2="219.78" y2="142.0" stroke="#7a7a7a" stroke-width="0.9"/>
<text x="219.78" y="148.70" font-family="Liberation Serif" font-size="5.7" fill="#333" text-anchor="middle" stroke="#333" stroke-width="0.06">1</text>
<line x1="243.36" y1="140.0" x2="243.36" y2="142.0" stroke="#7a7a7a" stroke-width="0.9"/>
<text x="243.36" y="148.70" font-family="Liberation Serif" font-size="5.7" fill="#333" text-anchor="middle" stroke="#333" stroke-width="0.06">2</text>
<line x1="266.95" y1="140.0" x2="266.95" y2="142.0" stroke="#7a7a7a" stroke-width="0.9"/>
<text x="266.95" y="148.70" font-family="Liberation Serif" font-size="5.7" fill="#333" text-anchor="middle" stroke="#333" stroke-width="0.06">3</text>
<line x1="290.54" y1="140.0" x2="290.54" y2="142.0" stroke="#7a7a7a" stroke-width="0.9"/>
<text x="290.54" y="148.70" font-family="Liberation Serif" font-size="5.7" fill="#333" text-anchor="middle" stroke="#333" stroke-width="0.06">4</text>
<line x1="314.12" y1="140.0" x2="314.12" y2="142.0" stroke="#7a7a7a" stroke-width="0.9"/>
<text x="314.12" y="148.70" font-family="Liberation Serif" font-size="5.7" fill="#333" text-anchor="middle" stroke="#333" stroke-width="0.06">5</text>
<line x1="337.71" y1="140.0" x2="337.71" y2="142.0" stroke="#7a7a7a" stroke-width="0.9"/>
<text x="337.71" y="148.70" font-family="Liberation Serif" font-size="5.7" fill="#333" text-anchor="middle" stroke="#333" stroke-width="0.06">6</text>
<text x="237.90" y="159.90" font-family="Liberation Serif" font-size="7.0" fill="#1e1e1e" textLength="58.5" lengthAdjust="spacingAndGlyphs" stroke="#1e1e1e" stroke-width="0.15">Diffusion Coordinate</text>
<text transform="translate(170.2,73.6) rotate(-90)" font-family="Liberation Serif" font-size="7.2" fill="#1e1e1e" stroke="#1e1e1e" stroke-width="0.08" text-anchor="middle" textLength="33.7" lengthAdjust="spacingAndGlyphs">Energy(eV)</text>
<rect x="186.2" y="11.2" width="32.90" height="13.30" fill="#fff" stroke="#888" stroke-width="0.7"/>
<text x="194.50" y="20.00" font-family="Liberation Serif" font-size="7.3" fill="#1e1e1e" textLength="14.8" lengthAdjust="spacingAndGlyphs" stroke="#1e1e1e" stroke-width="0.08">Path1</text>
<rect x="297.5" y="9.0" width="50.90" height="21.80" fill="#fff" stroke="#b0b0b0" stroke-width="0.6"/>
<line x1="298.1" y1="12.1" x2="310.7" y2="12.1" stroke="#c4722e" stroke-width="1"/>
<circle cx="304.50" cy="12.10" r="1.28" fill="#b4581c"/>
<text x="312.00" y="14.10" font-family="Liberation Serif" font-size="5.65" fill="#333" textLength="24.7" lengthAdjust="spacingAndGlyphs" stroke="#333" stroke-width="0.05">tbgraphene</text>
<line x1="298.1" y1="19.3" x2="310.7" y2="19.3" stroke="#1e9cf2" stroke-width="1"/>
<circle cx="304.50" cy="19.30" r="1.28" fill="#1e9cf2"/>
<text x="312.00" y="21.30" font-family="Liberation Serif" font-size="5.65" fill="#333" textLength="35.4" lengthAdjust="spacingAndGlyphs" stroke="#333" stroke-width="0.05">B<tspan font-size="3.9" dy="1.7">C1</tspan><tspan dy="-1.7">-tbgraphene</tspan></text>
<line x1="298.1" y1="27.1" x2="310.7" y2="27.1" stroke="#f42828" stroke-width="1"/>
<circle cx="304.50" cy="27.10" r="1.28" fill="#f42828"/>
<text x="312.00" y="29.10" font-family="Liberation Serif" font-size="5.65" fill="#333" textLength="35.4" lengthAdjust="spacingAndGlyphs" stroke="#333" stroke-width="0.05">N<tspan font-size="3.9" dy="1.7">C1</tspan><tspan dy="-1.7">-tbgraphene</tspan></text>
<text x="158.50" y="13.10" font-family="Liberation Serif" font-size="10.8" fill="#1e1e1e" textLength="11.8" lengthAdjust="spacingAndGlyphs" stroke="#1e1e1e" stroke-width="0.12">(b)</text>
<line x1="380.3" y1="125.26" x2="544.8" y2="125.26" stroke="#46a846" stroke-width="1" stroke-dasharray="2.6,2.4" stroke-dashoffset="-1"/>
<path d="M392.05,125.26 L392.94,124.99 L393.82,124.71 L394.71,124.42 L395.60,124.12 L396.48,123.80 L397.37,123.45 L398.26,123.07 L399.14,122.65 L400.03,122.19 L400.92,121.68 L401.80,121.12 L402.69,120.50 L403.58,119.81 L404.47,119.06 L405.35,118.23 L406.24,117.33 L407.13,116.33 L408.01,115.25 L408.90,114.07 L409.79,112.80 L410.67,111.41 L411.56,109.92 L412.45,108.30 L413.33,106.57 L414.22,104.71 L415.11,102.71 L415.99,100.58 L416.88,98.32 L417.77,95.94 L418.65,93.46 L419.54,90.90 L420.43,88.28 L421.31,85.60 L422.20,82.90 L423.09,80.18 L423.97,77.47 L424.86,74.77 L425.75,72.11 L426.63,69.51 L427.52,66.97 L428.41,64.52 L429.30,62.17 L430.18,59.94 L431.07,57.85 L431.96,55.92 L432.84,54.15 L433.73,52.58 L434.62,51.20 L435.50,50.05 L436.39,49.14 L437.28,48.48 L438.16,48.09 L439.05,47.99 L439.94,48.20 L440.82,48.68 L441.71,49.42 L442.60,50.40 L443.48,51.59 L444.37,52.96 L445.26,54.51 L446.14,56.19 L447.03,58.00 L447.92,59.90 L448.80,61.87 L449.69,63.89 L450.58,65.94 L451.47,67.99 L452.35,70.01 L453.24,72.00 L454.13,73.91 L455.01,75.74 L455.90,77.44 L456.79,79.02 L457.67,80.43 L458.56,81.65 L459.45,82.67 L460.33,83.46 L461.22,83.99 L462.11,84.25 L462.99,84.21 L463.88,83.86 L464.77,83.24 L465.65,82.36 L466.54,81.26 L467.43,79.95 L468.31,78.45 L469.20,76.80 L470.09,75.01 L470.97,73.11 L471.86,71.12 L472.75,69.06 L473.63,66.97 L474.52,64.85 L475.41,62.74 L476.30,60.67 L477.18,58.64 L478.07,56.69 L478.96,54.85 L479.84,53.12 L480.73,51.55 L481.62,50.14 L482.50,48.94 L483.39,47.94 L484.28,47.20 L485.16,46.71 L486.05,46.52 L486.94,46.63 L487.82,47.04 L488.71,47.73 L489.60,48.68 L490.48,49.87 L491.37,51.29 L492.26,52.91 L493.14,54.73 L494.03,56.73 L494.92,58.88 L495.80,61.17 L496.69,63.58 L497.58,66.10 L498.47,68.71 L499.35,71.39 L500.24,74.12 L501.13,76.89 L502.01,79.67 L502.90,82.46 L503.79,85.23 L504.67,87.97 L505.56,90.66 L506.45,93.28 L507.33,95.81 L508.22,98.25 L509.11,100.56 L509.99,102.73 L510.88,104.77 L511.77,106.67 L512.65,108.43 L513.54,110.07 L514.43,111.59 L515.31,112.99 L516.20,114.28 L517.09,115.47 L517.97,116.56 L518.86,117.55 L519.75,118.46 L520.63,119.28 L521.52,120.03 L522.41,120.71 L523.30,121.32 L524.18,121.87 L525.07,122.37 L525.96,122.81 L526.84,123.21 L527.73,123.58 L528.62,123.91 L529.50,124.21 L530.39,124.49 L531.28,124.75 L532.16,125.01 L533.05,125.26" fill="none" stroke="#c4722e" stroke-width="1.05"/>
<path d="M392.05,125.26 L392.94,125.30 L393.82,125.34 L394.71,125.36 L395.60,125.36 L396.48,125.33 L397.37,125.26 L398.26,125.15 L399.14,124.99 L400.03,124.77 L400.92,124.48 L401.80,124.11 L402.69,123.67 L403.58,123.13 L404.47,122.50 L405.35,121.77 L406.24,120.92 L407.13,119.95 L408.01,118.86 L408.90,117.64 L409.79,116.27 L410.67,114.75 L411.56,113.08 L412.45,111.25 L413.33,109.24 L414.22,107.06 L415.11,104.69 L415.99,102.13 L416.88,99.38 L417.77,96.46 L418.65,93.40 L419.54,90.21 L420.43,86.91 L421.31,83.52 L422.20,80.06 L423.09,76.55 L423.97,73.00 L424.86,69.45 L425.75,65.91 L426.63,62.39 L427.52,58.92 L428.41,55.52 L429.30,52.21 L430.18,49.00 L431.07,45.92 L431.96,42.98 L432.84,40.21 L433.73,37.62 L434.62,35.24 L435.50,33.07 L436.39,31.16 L437.28,29.50 L438.16,28.13 L439.05,27.06 L439.94,26.30 L440.82,25.84 L441.71,25.66 L442.60,25.74 L443.48,26.06 L444.37,26.58 L445.26,27.30 L446.14,28.20 L447.03,29.24 L447.92,30.41 L448.80,31.68 L449.69,33.05 L450.58,34.47 L451.47,35.94 L452.35,37.43 L453.24,38.92 L454.13,40.39 L455.01,41.82 L455.90,43.18 L456.79,44.46 L457.67,45.62 L458.56,46.66 L459.45,47.55 L460.33,48.27 L461.22,48.80 L462.11,49.11 L462.99,49.18 L463.88,49.02 L464.77,48.64 L465.65,48.07 L466.54,47.31 L467.43,46.39 L468.31,45.33 L469.20,44.15 L470.09,42.87 L470.97,41.50 L471.86,40.06 L472.75,38.58 L473.63,37.07 L474.52,35.56 L475.41,34.05 L476.30,32.58 L477.18,31.15 L478.07,29.80 L478.96,28.53 L479.84,27.37 L480.73,26.33 L481.62,25.44 L482.50,24.71 L483.39,24.16 L484.28,23.82 L485.16,23.70 L486.05,23.81 L486.94,24.19 L487.82,24.80 L488.71,25.65 L489.60,26.72 L490.48,28.00 L491.37,29.47 L492.26,31.12 L493.14,32.94 L494.03,34.91 L494.92,37.02 L495.80,39.26 L496.69,41.61 L497.58,44.07 L498.47,46.61 L499.35,49.23 L500.24,51.91 L501.13,54.63 L502.01,57.39 L502.90,60.18 L503.79,62.97 L504.67,65.76 L505.56,68.53 L506.45,71.27 L507.33,73.97 L508.22,76.61 L509.11,79.18 L509.99,81.66 L510.88,84.06 L511.77,86.38 L512.65,88.61 L513.54,90.76 L514.43,92.84 L515.31,94.85 L516.20,96.79 L517.09,98.66 L517.97,100.48 L518.86,102.23 L519.75,103.94 L520.63,105.59 L521.52,107.19 L522.41,108.75 L523.30,110.27 L524.18,111.75 L525.07,113.20 L525.96,114.61 L526.84,116.00 L527.73,117.37 L528.62,118.72 L529.50,120.04 L530.39,121.36 L531.28,122.66 L532.16,123.96 L533.05,125.26" fill="none" stroke="#1e9cf2" stroke-width="1.05"/>
<path d="M392.05,125.26 L392.94,123.49 L393.82,121.73 L394.71,119.97 L395.60,118.23 L396.48,116.52 L397.37,114.82 L398.26,113.16 L399.14,111.53 L400.03,109.94 L400.92,108.39 L401.80,106.90 L402.69,105.45 L403.58,104.07 L404.47,102.75 L405.35,101.50 L406.24,100.33 L407.13,99.23 L408.01,98.22 L408.90,97.30 L409.79,96.47 L410.67,95.74 L411.56,95.11 L412.45,94.59 L413.33,94.19 L414.22,93.90 L415.11,93.74 L415.99,93.70 L416.88,93.79 L417.77,94.00 L418.65,94.33 L419.54,94.75 L420.43,95.28 L421.31,95.89 L422.20,96.58 L423.09,97.35 L423.97,98.18 L424.86,99.07 L425.75,100.01 L426.63,100.99 L427.52,102.01 L428.41,103.05 L429.30,104.12 L430.18,105.20 L431.07,106.28 L431.96,107.35 L432.84,108.42 L433.73,109.47 L434.62,110.49 L435.50,111.48 L436.39,112.42 L437.28,113.32 L438.16,114.16 L439.05,114.93 L439.94,115.64 L440.82,116.27 L441.71,116.83 L442.60,117.33 L443.48,117.75 L444.37,118.11 L445.26,118.40 L446.14,118.63 L447.03,118.80 L447.92,118.90 L448.80,118.94 L449.69,118.92 L450.58,118.84 L451.47,118.71 L452.35,118.52 L453.24,118.27 L454.13,117.96 L455.01,117.61 L455.90,117.20 L456.79,116.74 L457.67,116.23 L458.56,115.67 L459.45,115.06 L460.33,114.41 L461.22,113.71 L462.11,112.96 L462.99,112.18 L463.88,111.35 L464.77,110.48 L465.65,109.58 L466.54,108.66 L467.43,107.71 L468.31,106.74 L469.20,105.75 L470.09,104.76 L470.97,103.75 L471.86,102.74 L472.75,101.73 L473.63,100.73 L474.52,99.74 L475.41,98.76 L476.30,97.80 L477.18,96.86 L478.07,95.94 L478.96,95.06 L479.84,94.21 L480.73,93.40 L481.62,92.63 L482.50,91.91 L483.39,91.24 L484.28,90.62 L485.16,90.07 L486.05,89.57 L486.94,89.15 L487.82,88.79 L488.71,88.49 L489.60,88.26 L490.48,88.09 L491.37,87.98 L492.26,87.93 L493.14,87.94 L494.03,88.00 L494.92,88.12 L495.80,88.29 L496.69,88.52 L497.58,88.79 L498.47,89.11 L499.35,89.48 L500.24,89.90 L501.13,90.35 L502.01,90.86 L502.90,91.40 L503.79,91.98 L504.67,92.61 L505.56,93.27 L506.45,93.96 L507.33,94.69 L508.22,95.45 L509.11,96.24 L509.99,97.07 L510.88,97.92 L511.77,98.80 L512.65,99.70 L513.54,100.63 L514.43,101.59 L515.31,102.56 L516.20,103.56 L517.09,104.58 L517.97,105.62 L518.86,106.68 L519.75,107.76 L520.63,108.85 L521.52,109.96 L522.41,111.08 L523.30,112.21 L524.18,113.36 L525.07,114.52 L525.96,115.69 L526.84,116.86 L527.73,118.05 L528.62,119.24 L529.50,120.44 L530.39,121.64 L531.28,122.84 L532.16,124.05 L533.05,125.26" fill="none" stroke="#f64646" stroke-width="1.05"/>
<path d="M392.05,123.16 L394.05,126.52 L390.06,126.52 Z" fill="#b4581c"/>
<path d="M415.55,99.56 L417.55,102.92 L413.56,102.92 Z" fill="#b4581c"/>
<path d="M439.05,45.89 L441.05,49.25 L437.06,49.25 Z" fill="#b4581c"/>
<path d="M462.55,82.17 L464.54,85.53 L460.55,85.53 Z" fill="#b4581c"/>
<path d="M486.05,44.42 L488.04,47.78 L484.05,47.78 Z" fill="#b4581c"/>
<path d="M509.55,99.56 L511.54,102.92 L507.55,102.92 Z" fill="#b4581c"/>
<path d="M533.05,123.16 L535.04,126.52 L531.05,126.52 Z" fill="#b4581c"/>
<path d="M392.05,123.16 L394.05,126.52 L390.06,126.52 Z" fill="#1e9cf2"/>
<path d="M415.55,101.33 L417.55,104.69 L413.56,104.69 Z" fill="#1e9cf2"/>
<path d="M439.05,24.96 L441.05,28.32 L437.06,28.32 Z" fill="#1e9cf2"/>
<path d="M462.55,47.07 L464.54,50.43 L460.55,50.43 Z" fill="#1e9cf2"/>
<path d="M486.05,21.71 L488.04,25.07 L484.05,25.07 Z" fill="#1e9cf2"/>
<path d="M509.55,78.33 L511.54,81.69 L507.55,81.69 Z" fill="#1e9cf2"/>
<path d="M533.05,123.16 L535.04,126.52 L531.05,126.52 Z" fill="#1e9cf2"/>
<path d="M392.05,123.16 L394.05,126.52 L390.06,126.52 Z" fill="#f22"/>
<path d="M415.55,91.60 L417.55,94.96 L413.56,94.96 Z" fill="#f22"/>
<path d="M439.05,112.83 L441.05,116.19 L437.06,116.19 Z" fill="#f22"/>
<path d="M462.55,110.48 L464.54,113.84 L460.55,113.84 Z" fill="#f22"/>
<path d="M486.05,87.47 L488.04,90.83 L484.05,90.83 Z" fill="#f22"/>
<path d="M509.55,94.55 L511.54,97.91 L507.55,97.91 Z" fill="#f22"/>
<path d="M533.05,123.16 L535.04,126.52 L531.05,126.52 Z" fill="#f22"/>
<line x1="470.5" y1="23.8" x2="483.5" y2="23.8" stroke="#1e9cf2" stroke-width="1.1" stroke-dasharray="1.1,1.1"/>
<text x="455.90" y="26.40" font-family="Liberation Serif" font-size="8.0" fill="#1e9cf2" textLength="13.6" lengthAdjust="spacingAndGlyphs" stroke="#1e9cf2" stroke-width="0.12">0.34</text>
<line x1="488.5" y1="47.0" x2="503.0" y2="47.0" stroke="#c4722e" stroke-width="1.1" stroke-dasharray="1.1,1.1"/>
<text x="503.50" y="50.50" font-family="Liberation Serif" font-size="8.0" fill="#c4722e" textLength="13.8" lengthAdjust="spacingAndGlyphs" stroke="#c4722e" stroke-width="0.12">0.27</text>
<line x1="418.3" y1="94.0" x2="432.0" y2="94.0" stroke="#f42828" stroke-width="1.1" stroke-dasharray="1.1,1.1"/>
<text x="432.70" y="96.70" font-family="Liberation Serif" font-size="8.2" fill="#f42828" textLength="14.1" lengthAdjust="spacingAndGlyphs" font-weight="bold">0.12</text>
<rect x="380.3" y="7.3" width="164.50" height="132.70" fill="none" stroke="#7a7a7a" stroke-width="1.1"/>
<line x1="378.3" y1="125.26" x2="380.3" y2="125.26" stroke="#7a7a7a" stroke-width="0.9"/>
<text x="376.10" y="127.00" font-family="Liberation Serif" font-size="5.8" fill="#333" text-anchor="end" stroke="#333" stroke-width="0.04">0.0</text>
<line x1="378.3" y1="95.77" x2="380.3" y2="95.77" stroke="#7a7a7a" stroke-width="0.9"/>
<text x="376.10" y="97.51" font-family="Liberation Serif" font-size="5.8" fill="#333" text-anchor="end" stroke="#333" stroke-width="0.04">0.1</text>
<line x1="378.3" y1="66.28" x2="380.3" y2="66.28" stroke="#7a7a7a" stroke-width="0.9"/>
<text x="376.10" y="68.02" font-family="Liberation Serif" font-size="5.8" fill="#333" text-anchor="end" stroke="#333" stroke-width="0.04">0.2</text>
<line x1="378.3" y1="36.79" x2="380.3" y2="36.79" stroke="#7a7a7a" stroke-width="0.9"/>
<text x="376.10" y="38.53" font-family="Liberation Serif" font-size="5.8" fill="#333" text-anchor="end" stroke="#333" stroke-width="0.04">0.3</text>
<line x1="378.3" y1="7.30" x2="380.3" y2="7.30" stroke="#7a7a7a" stroke-width="0.9"/>
<text x="376.10" y="9.04" font-family="Liberation Serif" font-size="5.8" fill="#333" text-anchor="end" stroke="#333" stroke-width="0.04">0.4</text>
<line x1="379.1" y1="140.00" x2="380.3" y2="140.00" stroke="#7a7a7a" stroke-width="0.8"/>
<line x1="379.1" y1="110.51" x2="380.3" y2="110.51" stroke="#7a7a7a" stroke-width="0.8"/>
<line x1="379.1" y1="81.02" x2="380.3" y2="81.02" stroke="#7a7a7a" stroke-width="0.8"/>
<line x1="379.1" y1="51.53" x2="380.3" y2="51.53" stroke="#7a7a7a" stroke-width="0.8"/>
<line x1="379.1" y1="22.04" x2="380.3" y2="22.04" stroke="#7a7a7a" stroke-width="0.8"/>
<line x1="392.05" y1="140.0" x2="392.05" y2="142.0" stroke="#7a7a7a" stroke-width="0.9"/>
<text x="392.05" y="148.70" font-family="Liberation Serif" font-size="5.7" fill="#333" text-anchor="middle" stroke="#333" stroke-width="0.06">0</text>
<line x1="415.55" y1="140.0" x2="415.55" y2="142.0" stroke="#7a7a7a" stroke-width="0.9"/>
<text x="415.55" y="148.70" font-family="Liberation Serif" font-size="5.7" fill="#333" text-anchor="middle" stroke="#333" stroke-width="0.06">1</text>
<line x1="439.05" y1="140.0" x2="439.05" y2="142.0" stroke="#7a7a7a" stroke-width="0.9"/>
<text x="439.05" y="148.70" font-family="Liberation Serif" font-size="5.7" fill="#333" text-anchor="middle" stroke="#333" stroke-width="0.06">2</text>
<line x1="462.55" y1="140.0" x2="462.55" y2="142.0" stroke="#7a7a7a" stroke-width="0.9"/>
<text x="462.55" y="148.70" font-family="Liberation Serif" font-size="5.7" fill="#333" text-anchor="middle" stroke="#333" stroke-width="0.06">3</text>
<line x1="486.05" y1="140.0" x2="486.05" y2="142.0" stroke="#7a7a7a" stroke-width="0.9"/>
<text x="486.05" y="148.70" font-family="Liberation Serif" font-size="5.7" fill="#333" text-anchor="middle" stroke="#333" stroke-width="0.06">4</text>
<line x1="509.55" y1="140.0" x2="509.55" y2="142.0" stroke="#7a7a7a" stroke-width="0.9"/>
<text x="509.55" y="148.70" font-family="Liberation Serif" font-size="5.7" fill="#333" text-anchor="middle" stroke="#333" stroke-width="0.06">5</text>
<line x1="533.05" y1="140.0" x2="533.05" y2="142.0" stroke="#7a7a7a" stroke-width="0.9"/>
<text x="533.05" y="148.70" font-family="Liberation Serif" font-size="5.7" fill="#333" text-anchor="middle" stroke="#333" stroke-width="0.06">6</text>
<text x="433.30" y="159.90" font-family="Liberation Serif" font-size="7.0" fill="#1e1e1e" textLength="58.5" lengthAdjust="spacingAndGlyphs" stroke="#1e1e1e" stroke-width="0.15">Diffusion Coordinate</text>
<text transform="translate(366.0,73.7) rotate(-90)" font-family="Liberation Serif" font-size="7.2" fill="#1e1e1e" stroke="#1e1e1e" stroke-width="0.08" text-anchor="middle" textLength="33.7" lengthAdjust="spacingAndGlyphs">Energy(eV)</text>
<rect x="382.2" y="10.3" width="32.90" height="13.30" fill="#fff" stroke="#888" stroke-width="0.7"/>
<text x="391.60" y="19.10" font-family="Liberation Serif" font-size="7.4" fill="#1e1e1e" textLength="15.3" lengthAdjust="spacingAndGlyphs" stroke="#1e1e1e" stroke-width="0.08">Path2</text>
<rect x="492.7" y="9.3" width="50.80" height="22.80" fill="#fff" stroke="#b0b0b0" stroke-width="0.6"/>
<line x1="493.3" y1="12.4" x2="505.9" y2="12.4" stroke="#c4722e" stroke-width="1"/>
<path d="M499.70,10.72 L501.30,13.41 L498.10,13.41 Z" fill="#b4581c"/>
<text x="507.20" y="14.40" font-family="Liberation Serif" font-size="5.65" fill="#333" textLength="24.7" lengthAdjust="spacingAndGlyphs" stroke="#333" stroke-width="0.05">tbgraphene</text>
<line x1="493.3" y1="19.9" x2="505.9" y2="19.9" stroke="#1e9cf2" stroke-width="1"/>
<path d="M499.70,18.22 L501.30,20.91 L498.10,20.91 Z" fill="#1e9cf2"/>
<text x="507.20" y="21.90" font-family="Liberation Serif" font-size="5.65" fill="#333" textLength="35.0" lengthAdjust="spacingAndGlyphs" stroke="#333" stroke-width="0.05">B<tspan font-size="3.9" dy="1.7">C1</tspan><tspan dy="-1.7">-tbgraphene</tspan></text>
<line x1="493.3" y1="28.0" x2="505.9" y2="28.0" stroke="#f88" stroke-width="1"/>
<path d="M499.70,26.32 L501.30,29.01 L498.10,29.01 Z" fill="#f22"/>
<text x="507.20" y="30.00" font-family="Liberation Serif" font-size="5.65" fill="#333" textLength="35.0" lengthAdjust="spacingAndGlyphs" stroke="#333" stroke-width="0.05">N<tspan font-size="3.9" dy="1.7">C1</tspan><tspan dy="-1.7">-tbgraphene</tspan></text>
<text x="354.90" y="13.40" font-family="Liberation Serif" font-size="10.8" fill="#1e1e1e" textLength="11.9" lengthAdjust="spacingAndGlyphs" stroke="#1e1e1e" stroke-width="0.12">(c)</text>
<line x1="184.0" y1="289.90" x2="349.6" y2="289.90" stroke="#7cc47c" stroke-width="1.3" stroke-dasharray="1.5,2.7" stroke-dashoffset="-1"/>
<path d="M195.83,289.90 L196.72,288.33 L197.61,286.77 L198.51,285.20 L199.40,283.62 L200.29,282.03 L201.18,280.44 L202.08,278.83 L202.97,277.22 L203.86,275.58 L204.76,273.93 L205.65,272.26 L206.54,270.57 L207.43,268.86 L208.33,267.12 L209.22,265.36 L210.11,263.57 L211.00,261.75 L211.90,259.90 L212.79,258.01 L213.68,256.09 L214.58,254.13 L215.47,252.13 L216.36,250.09 L217.25,248.00 L218.15,245.87 L219.04,243.70 L219.93,241.47 L220.82,239.20 L221.72,236.90 L222.61,234.56 L223.50,232.21 L224.40,229.85 L225.29,227.49 L226.18,225.14 L227.07,222.81 L227.97,220.51 L228.86,218.24 L229.75,216.02 L230.64,213.86 L231.54,211.76 L232.43,209.73 L233.32,207.79 L234.22,205.93 L235.11,204.18 L236.00,202.54 L236.89,201.01 L237.79,199.62 L238.68,198.36 L239.57,197.25 L240.46,196.29 L241.36,195.50 L242.25,194.88 L243.14,194.45 L244.04,194.20 L244.93,194.14 L245.82,194.23 L246.71,194.48 L247.61,194.87 L248.50,195.39 L249.39,196.02 L250.28,196.74 L251.18,197.56 L252.07,198.45 L252.96,199.39 L253.86,200.39 L254.75,201.41 L255.64,202.46 L256.53,203.52 L257.43,204.56 L258.32,205.59 L259.21,206.59 L260.10,207.54 L261.00,208.43 L261.89,209.25 L262.78,209.99 L263.68,210.62 L264.57,211.15 L265.46,211.55 L266.35,211.81 L267.25,211.92 L268.14,211.87 L269.03,211.69 L269.92,211.38 L270.82,210.96 L271.71,210.44 L272.60,209.82 L273.50,209.13 L274.39,208.37 L275.28,207.56 L276.17,206.71 L277.07,205.83 L277.96,204.94 L278.85,204.04 L279.74,203.16 L280.64,202.29 L281.53,201.46 L282.42,200.68 L283.32,199.95 L284.21,199.30 L285.10,198.73 L285.99,198.26 L286.89,197.89 L287.78,197.65 L288.67,197.54 L289.56,197.58 L290.46,197.77 L291.35,198.13 L292.24,198.66 L293.14,199.34 L294.03,200.16 L294.92,201.13 L295.81,202.23 L296.71,203.46 L297.60,204.80 L298.49,206.25 L299.38,207.81 L300.28,209.46 L301.17,211.19 L302.06,213.01 L302.96,214.89 L303.85,216.84 L304.74,218.84 L305.63,220.90 L306.53,222.99 L307.42,225.12 L308.31,227.27 L309.20,229.44 L310.10,231.62 L310.99,233.80 L311.88,235.98 L312.78,238.14 L313.67,240.28 L314.56,242.40 L315.45,244.48 L316.35,246.54 L317.24,248.56 L318.13,250.56 L319.02,252.53 L319.92,254.47 L320.81,256.39 L321.70,258.29 L322.60,260.17 L323.49,262.02 L324.38,263.86 L325.27,265.68 L326.17,267.48 L327.06,269.26 L327.95,271.03 L328.84,272.79 L329.74,274.54 L330.63,276.27 L331.52,278.00 L332.42,279.71 L333.31,281.42 L334.20,283.12 L335.09,284.82 L335.99,286.52 L336.88,288.21 L337.77,289.90" fill="none" stroke="#1e9cf2" stroke-width="1.05"/>
<circle cx="195.83" cy="289.90" r="1.60" fill="#1e9cf2"/>
<circle cx="219.49" cy="242.59" r="1.60" fill="#1e9cf2"/>
<circle cx="243.14" cy="194.45" r="1.60" fill="#1e9cf2"/>
<circle cx="266.80" cy="211.88" r="1.60" fill="#1e9cf2"/>
<circle cx="290.46" cy="197.77" r="1.60" fill="#1e9cf2"/>
<circle cx="314.11" cy="241.34" r="1.60" fill="#1e9cf2"/>
<circle cx="337.77" cy="289.90" r="1.60" fill="#1e9cf2"/>
<line x1="228.5" y1="193.1" x2="241.5" y2="193.1" stroke="#1e9cf2" stroke-width="1.1" stroke-dasharray="1.1,1.1"/>
<text x="211.20" y="196.50" font-family="Liberation Serif" font-size="9.2" fill="#1e9cf2" textLength="15.3" lengthAdjust="spacingAndGlyphs" font-weight="bold">0.23</text>
<rect x="184.0" y="165.4" width="165.60" height="132.80" fill="none" stroke="#7a7a7a" stroke-width="1.1"/>
<line x1="182.0" y1="289.90" x2="184.0" y2="289.90" stroke="#7a7a7a" stroke-width="0.9"/>
<text x="179.70" y="291.31" font-family="Liberation Serif" font-size="4.7" fill="#333" text-anchor="end" stroke="#333" stroke-width="0.04">0.00</text>
<line x1="182.0" y1="269.15" x2="184.0" y2="269.15" stroke="#7a7a7a" stroke-width="0.9"/>
<text x="179.70" y="270.56" font-family="Liberation Serif" font-size="4.7" fill="#333" text-anchor="end" stroke="#333" stroke-width="0.04">0.05</text>
<line x1="182.0" y1="248.40" x2="184.0" y2="248.40" stroke="#7a7a7a" stroke-width="0.9"/>
<text x="179.70" y="249.81" font-family="Liberation Serif" font-size="4.7" fill="#333" text-anchor="end" stroke="#333" stroke-width="0.04">0.10</text>
<line x1="182.0" y1="227.65" x2="184.0" y2="227.65" stroke="#7a7a7a" stroke-width="0.9"/>
<text x="179.70" y="229.06" font-family="Liberation Serif" font-size="4.7" fill="#333" text-anchor="end" stroke="#333" stroke-width="0.04">0.15</text>
<line x1="182.0" y1="206.90" x2="184.0" y2="206.90" stroke="#7a7a7a" stroke-width="0.9"/>
<text x="179.70" y="208.31" font-family="Liberation Serif" font-size="4.7" fill="#333" text-anchor="end" stroke="#333" stroke-width="0.04">0.20</text>
<line x1="182.0" y1="186.15" x2="184.0" y2="186.15" stroke="#7a7a7a" stroke-width="0.9"/>
<text x="179.70" y="187.56" font-family="Liberation Serif" font-size="4.7" fill="#333" text-anchor="end" stroke="#333" stroke-width="0.04">0.25</text>
<line x1="182.0" y1="165.40" x2="184.0" y2="165.40" stroke="#7a7a7a" stroke-width="0.9"/>
<text x="179.70" y="166.81" font-family="Liberation Serif" font-size="4.7" fill="#333" text-anchor="end" stroke="#333" stroke-width="0.04">0.30</text>
<line x1="182.8" y1="279.52" x2="184.0" y2="279.52" stroke="#7a7a7a" stroke-width="0.8"/>
<line x1="182.8" y1="258.77" x2="184.0" y2="258.77" stroke="#7a7a7a" stroke-width="0.8"/>
<line x1="182.8" y1="238.03" x2="184.0" y2="238.03" stroke="#7a7a7a" stroke-width="0.8"/>
<line x1="182.8" y1="217.28" x2="184.0" y2="217.28" stroke="#7a7a7a" stroke-width="0.8"/>
<line x1="182.8" y1="196.53" x2="184.0" y2="196.53" stroke="#7a7a7a" stroke-width="0.8"/>
<line x1="182.8" y1="175.77" x2="184.0" y2="175.77" stroke="#7a7a7a" stroke-width="0.8"/>
<line x1="195.83" y1="298.2" x2="195.83" y2="300.2" stroke="#7a7a7a" stroke-width="0.9"/>
<text x="195.83" y="305.80" font-family="Liberation Serif" font-size="5.2" fill="#333" text-anchor="middle" stroke="#333" stroke-width="0.06">0</text>
<line x1="219.49" y1="298.2" x2="219.49" y2="300.2" stroke="#7a7a7a" stroke-width="0.9"/>
<text x="219.49" y="305.80" font-family="Liberation Serif" font-size="5.2" fill="#333" text-anchor="middle" stroke="#333" stroke-width="0.06">1</text>
<line x1="243.14" y1="298.2" x2="243.14" y2="300.2" stroke="#7a7a7a" stroke-width="0.9"/>
<text x="243.14" y="305.80" font-family="Liberation Serif" font-size="5.2" fill="#333" text-anchor="middle" stroke="#333" stroke-width="0.06">2</text>
<line x1="266.80" y1="298.2" x2="266.80" y2="300.2" stroke="#7a7a7a" stroke-width="0.9"/>
<text x="266.80" y="305.80" font-family="Liberation Serif" font-size="5.2" fill="#333" text-anchor="middle" stroke="#333" stroke-width="0.06">3</text>
<line x1="290.46" y1="298.2" x2="290.46" y2="300.2" stroke="#7a7a7a" stroke-width="0.9"/>
<text x="290.46" y="305.80" font-family="Liberation Serif" font-size="5.2" fill="#333" text-anchor="middle" stroke="#333" stroke-width="0.06">4</text>
<line x1="314.11" y1="298.2" x2="314.11" y2="300.2" stroke="#7a7a7a" stroke-width="0.9"/>
<text x="314.11" y="305.80" font-family="Liberation Serif" font-size="5.2" fill="#333" text-anchor="middle" stroke="#333" stroke-width="0.06">5</text>
<line x1="337.77" y1="298.2" x2="337.77" y2="300.2" stroke="#7a7a7a" stroke-width="0.9"/>
<text x="337.77" y="305.80" font-family="Liberation Serif" font-size="5.2" fill="#333" text-anchor="middle" stroke="#333" stroke-width="0.06">6</text>
<text x="237.80" y="316.90" font-family="Liberation Serif" font-size="7.0" fill="#1e1e1e" textLength="58.5" lengthAdjust="spacingAndGlyphs" stroke="#1e1e1e" stroke-width="0.15">Diffusion Coordinate</text>
<text transform="translate(169.6,231.8) rotate(-90)" font-family="Liberation Serif" font-size="7.2" fill="#1e1e1e" stroke="#1e1e1e" stroke-width="0.08" text-anchor="middle" textLength="33.7" lengthAdjust="spacingAndGlyphs">Energy(eV)</text>
<rect x="186.2" y="167.9" width="32.40" height="13.40" fill="#fff" stroke="#888" stroke-width="0.7"/>
<text x="193.60" y="176.50" font-family="Liberation Serif" font-size="8.4" fill="#1e1e1e" textLength="16.4" lengthAdjust="spacingAndGlyphs" stroke="#1e1e1e" stroke-width="0.08">Path3</text>
<rect x="277.5" y="168.5" width="70.10" height="8.30" fill="#fff" stroke="#b0b0b0" stroke-width="0.6"/>
<line x1="278.1" y1="172.4" x2="291.5" y2="172.4" stroke="#1e9cf2" stroke-width="1"/>
<circle cx="284.90" cy="172.40" r="1.28" fill="#1e9cf2"/>
<text x="292.80" y="174.40" font-family="Liberation Serif" font-size="6.2" fill="#333" textLength="54.2" lengthAdjust="spacingAndGlyphs" stroke="#333" stroke-width="0.05">P<tspan font-size="3.9" dy="1.7">C1</tspan><tspan dy="-1.7">-tbgraphene-Path3</tspan></text>
<text x="158.80" y="170.10" font-family="Liberation Serif" font-size="10.8" fill="#1e1e1e" textLength="11.3" lengthAdjust="spacingAndGlyphs" stroke="#1e1e1e" stroke-width="0.12">(e)</text>
<line x1="380.2" y1="289.89" x2="544.9" y2="289.89" stroke="#7cc47c" stroke-width="1.2" stroke-dasharray="2.3,2.2" stroke-dashoffset="0"/>
<path d="M391.96,289.89 L392.85,285.79 L393.74,281.70 L394.63,277.63 L395.52,273.61 L396.40,269.62 L397.29,265.70 L398.18,261.85 L399.07,258.08 L399.96,254.41 L400.84,250.84 L401.73,247.40 L402.62,244.08 L403.51,240.91 L404.39,237.88 L405.28,235.03 L406.17,232.35 L407.06,229.87 L407.95,227.58 L408.83,225.51 L409.72,223.67 L410.61,222.06 L411.50,220.70 L412.39,219.60 L413.27,218.78 L414.16,218.24 L415.05,217.99 L415.94,218.06 L416.82,218.42 L417.71,219.07 L418.60,219.97 L419.49,221.10 L420.38,222.44 L421.26,223.97 L422.15,225.66 L423.04,227.49 L423.93,229.43 L424.82,231.46 L425.70,233.56 L426.59,235.71 L427.48,237.87 L428.37,240.04 L429.25,242.18 L430.14,244.27 L431.03,246.28 L431.92,248.20 L432.81,250.00 L433.69,251.65 L434.58,253.14 L435.47,254.44 L436.36,255.53 L437.25,256.37 L438.13,256.96 L439.02,257.26 L439.91,257.26 L440.80,256.97 L441.69,256.41 L442.57,255.59 L443.46,254.53 L444.35,253.25 L445.24,251.77 L446.12,250.10 L447.01,248.26 L447.90,246.27 L448.79,244.14 L449.68,241.89 L450.56,239.55 L451.45,237.12 L452.34,234.62 L453.23,232.08 L454.12,229.50 L455.00,226.91 L455.89,224.32 L456.78,221.76 L457.67,219.23 L458.55,216.75 L459.44,214.35 L460.33,212.04 L461.22,209.83 L462.11,207.75 L462.99,205.81 L463.88,204.02 L464.77,202.37 L465.66,200.85 L466.55,199.48 L467.43,198.24 L468.32,197.12 L469.21,196.12 L470.10,195.25 L470.98,194.49 L471.87,193.84 L472.76,193.30 L473.65,192.85 L474.54,192.51 L475.42,192.26 L476.31,192.11 L477.20,192.03 L478.09,192.04 L478.98,192.13 L479.86,192.29 L480.75,192.52 L481.64,192.81 L482.53,193.17 L483.41,193.58 L484.30,194.05 L485.19,194.57 L486.08,195.12 L486.97,195.73 L487.85,196.37 L488.74,197.05 L489.63,197.78 L490.52,198.55 L491.41,199.36 L492.29,200.22 L493.18,201.12 L494.07,202.07 L494.96,203.06 L495.85,204.11 L496.73,205.19 L497.62,206.33 L498.51,207.52 L499.40,208.75 L500.28,210.04 L501.17,211.37 L502.06,212.76 L502.95,214.20 L503.84,215.69 L504.72,217.24 L505.61,218.83 L506.50,220.49 L507.39,222.20 L508.28,223.96 L509.16,225.78 L510.05,227.66 L510.94,229.59 L511.83,231.58 L512.71,233.62 L513.60,235.71 L514.49,237.85 L515.38,240.03 L516.27,242.25 L517.15,244.52 L518.04,246.83 L518.93,249.17 L519.82,251.55 L520.71,253.96 L521.59,256.40 L522.48,258.86 L523.37,261.36 L524.26,263.88 L525.14,266.42 L526.03,268.97 L526.92,271.55 L527.81,274.14 L528.70,276.75 L529.58,279.36 L530.47,281.99 L531.36,284.62 L532.25,287.25 L533.14,289.89" fill="none" stroke="#f88d1c" stroke-width="1.05"/>
<path d="M391.96,287.79 L393.96,291.15 L389.97,291.15 Z" fill="#e8780c"/>
<path d="M415.49,215.88 L417.49,219.24 L413.50,219.24 Z" fill="#e8780c"/>
<path d="M439.02,255.16 L441.02,258.52 L437.03,258.52 Z" fill="#e8780c"/>
<path d="M462.55,204.66 L464.55,208.02 L460.56,208.02 Z" fill="#e8780c"/>
<path d="M486.08,193.03 L488.07,196.38 L484.08,196.38 Z" fill="#e8780c"/>
<path d="M509.61,224.61 L511.60,227.97 L507.61,227.97 Z" fill="#e8780c"/>
<path d="M533.14,287.79 L535.13,291.15 L531.14,291.15 Z" fill="#e8780c"/>
<line x1="462.3" y1="191.6" x2="471.8" y2="191.6" stroke="#f88d1c" stroke-width="1.1" stroke-dasharray="1.1,1.1"/>
<text x="445.00" y="194.50" font-family="Liberation Serif" font-size="9.2" fill="#f88d1c" textLength="15.0" lengthAdjust="spacingAndGlyphs" stroke="#f88d1c" stroke-width="0.12">0.23</text>
<rect x="380.2" y="165.2" width="164.70" height="133.00" fill="none" stroke="#7a7a7a" stroke-width="1.1"/>
<line x1="378.2" y1="289.89" x2="380.2" y2="289.89" stroke="#7a7a7a" stroke-width="0.9"/>
<text x="375.90" y="291.30" font-family="Liberation Serif" font-size="4.7" fill="#333" text-anchor="end" stroke="#333" stroke-width="0.04">0.00</text>
<line x1="378.2" y1="269.11" x2="380.2" y2="269.11" stroke="#7a7a7a" stroke-width="0.9"/>
<text x="375.90" y="270.52" font-family="Liberation Serif" font-size="4.7" fill="#333" text-anchor="end" stroke="#333" stroke-width="0.04">0.05</text>
<line x1="378.2" y1="248.32" x2="380.2" y2="248.32" stroke="#7a7a7a" stroke-width="0.9"/>
<text x="375.90" y="249.73" font-family="Liberation Serif" font-size="4.7" fill="#333" text-anchor="end" stroke="#333" stroke-width="0.04">0.10</text>
<line x1="378.2" y1="227.54" x2="380.2" y2="227.54" stroke="#7a7a7a" stroke-width="0.9"/>
<text x="375.90" y="228.95" font-family="Liberation Serif" font-size="4.7" fill="#333" text-anchor="end" stroke="#333" stroke-width="0.04">0.15</text>
<line x1="378.2" y1="206.76" x2="380.2" y2="206.76" stroke="#7a7a7a" stroke-width="0.9"/>
<text x="375.90" y="208.17" font-family="Liberation Serif" font-size="4.7" fill="#333" text-anchor="end" stroke="#333" stroke-width="0.04">0.20</text>
<line x1="378.2" y1="185.98" x2="380.2" y2="185.98" stroke="#7a7a7a" stroke-width="0.9"/>
<text x="375.90" y="187.39" font-family="Liberation Serif" font-size="4.7" fill="#333" text-anchor="end" stroke="#333" stroke-width="0.04">0.25</text>
<line x1="378.2" y1="165.20" x2="380.2" y2="165.20" stroke="#7a7a7a" stroke-width="0.9"/>
<text x="375.90" y="166.61" font-family="Liberation Serif" font-size="4.7" fill="#333" text-anchor="end" stroke="#333" stroke-width="0.04">0.30</text>
<line x1="379.0" y1="279.50" x2="380.2" y2="279.50" stroke="#7a7a7a" stroke-width="0.8"/>
<line x1="379.0" y1="258.72" x2="380.2" y2="258.72" stroke="#7a7a7a" stroke-width="0.8"/>
<line x1="379.0" y1="237.93" x2="380.2" y2="237.93" stroke="#7a7a7a" stroke-width="0.8"/>
<line x1="379.0" y1="217.15" x2="380.2" y2="217.15" stroke="#7a7a7a" stroke-width="0.8"/>
<line x1="379.0" y1="196.37" x2="380.2" y2="196.37" stroke="#7a7a7a" stroke-width="0.8"/>
<line x1="379.0" y1="175.59" x2="380.2" y2="175.59" stroke="#7a7a7a" stroke-width="0.8"/>
<line x1="391.96" y1="298.2" x2="391.96" y2="300.2" stroke="#7a7a7a" stroke-width="0.9"/>
<text x="391.96" y="305.80" font-family="Liberation Serif" font-size="5.2" fill="#333" text-anchor="middle" stroke="#333" stroke-width="0.06">0</text>
<line x1="415.49" y1="298.2" x2="415.49" y2="300.2" stroke="#7a7a7a" stroke-width="0.9"/>
<text x="415.49" y="305.80" font-family="Liberation Serif" font-size="5.2" fill="#333" text-anchor="middle" stroke="#333" stroke-width="0.06">1</text>
<line x1="439.02" y1="298.2" x2="439.02" y2="300.2" stroke="#7a7a7a" stroke-width="0.9"/>
<text x="439.02" y="305.80" font-family="Liberation Serif" font-size="5.2" fill="#333" text-anchor="middle" stroke="#333" stroke-width="0.06">2</text>
<line x1="462.55" y1="298.2" x2="462.55" y2="300.2" stroke="#7a7a7a" stroke-width="0.9"/>
<text x="462.55" y="305.80" font-family="Liberation Serif" font-size="5.2" fill="#333" text-anchor="middle" stroke="#333" stroke-width="0.06">3</text>
<line x1="486.08" y1="298.2" x2="486.08" y2="300.2" stroke="#7a7a7a" stroke-width="0.9"/>
<text x="486.08" y="305.80" font-family="Liberation Serif" font-size="5.2" fill="#333" text-anchor="middle" stroke="#333" stroke-width="0.06">4</text>
<line x1="509.61" y1="298.2" x2="509.61" y2="300.2" stroke="#7a7a7a" stroke-width="0.9"/>
<text x="509.61" y="305.80" font-family="Liberation Serif" font-size="5.2" fill="#333" text-anchor="middle" stroke="#333" stroke-width="0.06">5</text>
<line x1="533.14" y1="298.2" x2="533.14" y2="300.2" stroke="#7a7a7a" stroke-width="0.9"/>
<text x="533.14" y="305.80" font-family="Liberation Serif" font-size="5.2" fill="#333" text-anchor="middle" stroke="#333" stroke-width="0.06">6</text>
<text x="433.30" y="316.90" font-family="Liberation Serif" font-size="7.0" fill="#1e1e1e" textLength="58.5" lengthAdjust="spacingAndGlyphs" stroke="#1e1e1e" stroke-width="0.15">Diffusion Coordinate</text>
<text transform="translate(365.8,231.7) rotate(-90)" font-family="Liberation Serif" font-size="7.2" fill="#1e1e1e" stroke="#1e1e1e" stroke-width="0.08" text-anchor="middle" textLength="33.7" lengthAdjust="spacingAndGlyphs">Energy(eV)</text>
<rect x="382.4" y="167.3" width="33.30" height="13.30" fill="#fff" stroke="#888" stroke-width="0.7"/>
<text x="390.70" y="176.70" font-family="Liberation Serif" font-size="8.4" fill="#1e1e1e" textLength="16.4" lengthAdjust="spacingAndGlyphs" stroke="#1e1e1e" stroke-width="0.08">Path4</text>
<rect x="473.1" y="168.8" width="70.20" height="8.70" fill="#fff" stroke="#b0b0b0" stroke-width="0.6"/>
<line x1="473.70000000000005" y1="172.9" x2="486.6" y2="172.9" stroke="#f88d1c" stroke-width="1"/>
<path d="M480.25,171.22 L481.85,173.91 L478.65,173.91 Z" fill="#e8780c"/>
<text x="487.90" y="174.90" font-family="Liberation Serif" font-size="6.2" fill="#333" textLength="54.5" lengthAdjust="spacingAndGlyphs" stroke="#333" stroke-width="0.05">P<tspan font-size="3.9" dy="1.7">C1</tspan><tspan dy="-1.7">-tbgraphene-Path4</tspan></text>
<text x="356.00" y="171.30" font-family="Liberation Serif" font-size="10.8" fill="#1e1e1e" textLength="10.5" lengthAdjust="spacingAndGlyphs" stroke="#1e1e1e" stroke-width="0.12">(f)</text>
</svg></body></html>
